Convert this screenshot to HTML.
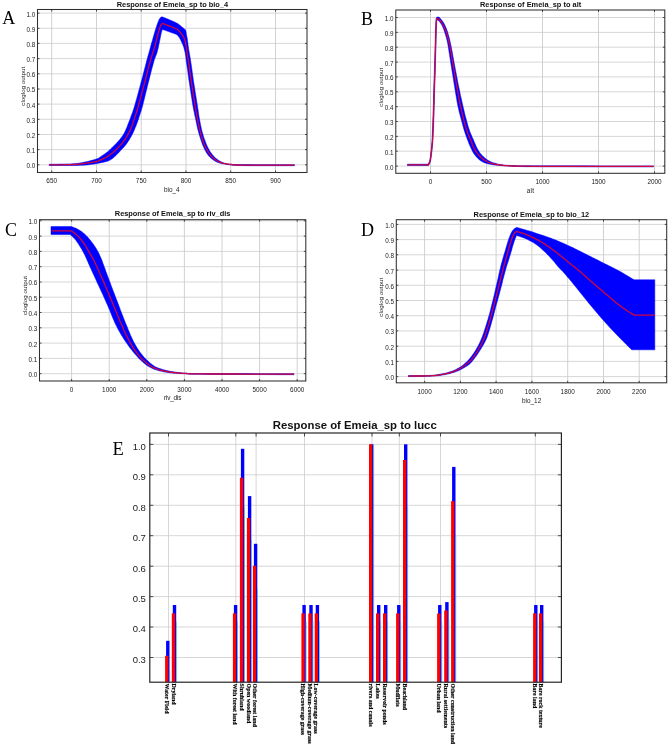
<!DOCTYPE html>
<html><head><meta charset="utf-8"><title>Response curves</title>
<style>html,body{margin:0;padding:0;background:#fff}svg{display:block}</style></head>
<body>
<svg width="669" height="747" viewBox="0 0 669 747">
<rect width="669" height="747" fill="#fff"/>
<line x1="51.7" y1="9.5" x2="51.7" y2="172.5" stroke="#c2c2c2" stroke-width="0.75"/>
<line x1="96.5" y1="9.5" x2="96.5" y2="172.5" stroke="#c2c2c2" stroke-width="0.75"/>
<line x1="141.2" y1="9.5" x2="141.2" y2="172.5" stroke="#c2c2c2" stroke-width="0.75"/>
<line x1="186.0" y1="9.5" x2="186.0" y2="172.5" stroke="#c2c2c2" stroke-width="0.75"/>
<line x1="230.7" y1="9.5" x2="230.7" y2="172.5" stroke="#c2c2c2" stroke-width="0.75"/>
<line x1="275.5" y1="9.5" x2="275.5" y2="172.5" stroke="#c2c2c2" stroke-width="0.75"/>
<line x1="37.5" y1="164.8" x2="307" y2="164.8" stroke="#cdcdcd" stroke-width="0.8"/>
<line x1="37.5" y1="149.6" x2="307" y2="149.6" stroke="#cdcdcd" stroke-width="0.8"/>
<line x1="37.5" y1="134.5" x2="307" y2="134.5" stroke="#cdcdcd" stroke-width="0.8"/>
<line x1="37.5" y1="119.3" x2="307" y2="119.3" stroke="#cdcdcd" stroke-width="0.8"/>
<line x1="37.5" y1="104.1" x2="307" y2="104.1" stroke="#cdcdcd" stroke-width="0.8"/>
<line x1="37.5" y1="89.0" x2="307" y2="89.0" stroke="#cdcdcd" stroke-width="0.8"/>
<line x1="37.5" y1="73.8" x2="307" y2="73.8" stroke="#cdcdcd" stroke-width="0.8"/>
<line x1="37.5" y1="58.6" x2="307" y2="58.6" stroke="#cdcdcd" stroke-width="0.8"/>
<line x1="37.5" y1="43.4" x2="307" y2="43.4" stroke="#cdcdcd" stroke-width="0.8"/>
<line x1="37.5" y1="28.3" x2="307" y2="28.3" stroke="#cdcdcd" stroke-width="0.8"/>
<line x1="37.5" y1="13.1" x2="307" y2="13.1" stroke="#cdcdcd" stroke-width="0.8"/>
<path d="M49.2,164.3 L52.0,164.2 L56.1,164.2 L60.8,164.1 L65.6,164.0 L70.1,163.9 L73.7,163.7 L76.3,163.5 L78.3,163.3 L79.9,163.1 L81.3,162.8 L82.8,162.5 L84.5,162.1 L86.5,161.7 L88.7,161.2 L90.8,160.6 L92.9,160.1 L94.8,159.5 L96.4,159.0 L97.6,158.6 L98.4,158.2 L99.1,157.8 L99.6,157.4 L100.2,156.9 L101.0,156.4 L101.9,155.8 L102.9,155.2 L103.9,154.5 L105.0,153.7 L106.0,153.0 L107.0,152.2 L108.0,151.4 L109.0,150.5 L110.0,149.6 L110.9,148.7 L111.9,147.8 L112.9,146.8 L113.9,145.8 L114.9,144.8 L116.0,143.7 L117.0,142.6 L118.0,141.6 L118.9,140.5 L119.8,139.4 L120.6,138.4 L121.5,137.3 L122.2,136.3 L123.0,135.2 L123.7,134.0 L124.4,132.8 L125.0,131.6 L125.5,130.4 L126.1,129.1 L126.7,127.7 L127.3,126.2 L127.9,124.6 L128.6,122.8 L129.3,121.0 L130.0,119.2 L130.7,117.3 L131.3,115.5 L131.9,113.9 L132.5,112.4 L133.0,110.9 L133.6,109.3 L134.2,107.3 L134.9,105.0 L135.7,102.1 L136.6,98.9 L137.6,95.3 L138.6,91.6 L139.6,87.9 L140.6,84.2 L141.6,80.5 L142.6,76.7 L143.6,72.8 L144.6,69.0 L145.5,65.4 L146.4,62.0 L147.2,58.9 L148.0,56.0 L148.8,53.3 L149.5,50.7 L150.2,48.2 L150.9,45.6 L151.6,43.0 L152.4,40.4 L153.1,37.8 L153.8,35.3 L154.5,33.0 L155.1,30.9 L155.7,29.0 L156.3,27.2 L156.8,25.5 L157.4,24.0 L157.8,22.7 L158.3,21.5 L158.7,20.5 L159.1,19.7 L159.4,19.1 L159.7,18.6 L160.0,18.2 L160.3,17.8 L160.6,17.5 L160.9,17.2 L161.2,17.1 L161.5,17.0 L161.7,16.9 L161.9,16.8 L162.8,17.1 L164.0,17.6 L165.4,18.1 L166.9,18.7 L168.4,19.3 L169.8,19.9 L171.1,20.5 L172.5,21.1 L173.9,21.7 L175.2,22.3 L176.5,23.0 L177.6,23.6 L178.6,24.2 L179.5,24.9 L180.2,25.5 L181.0,26.1 L181.6,26.7 L182.3,27.3 L183.0,27.8 L183.6,28.3 L184.2,28.8 L184.7,29.3 L185.2,29.6 L185.5,29.9 L185.7,30.6 L185.9,31.6 L186.2,32.8 L186.4,34.2 L186.7,35.7 L187.0,37.2 L187.3,38.9 L187.5,40.7 L187.8,42.6 L188.0,44.6 L188.3,46.6 L188.6,48.7 L188.9,50.7 L189.3,52.7 L189.6,54.7 L190.0,56.8 L190.4,59.2 L190.8,62.0 L191.3,65.2 L191.8,68.8 L192.3,72.6 L192.9,76.6 L193.4,80.5 L194.0,84.2 L194.6,87.8 L195.1,91.5 L195.7,95.1 L196.3,98.7 L196.8,102.0 L197.3,105.0 L197.7,107.7 L198.1,110.1 L198.4,112.3 L198.7,114.4 L199.0,116.5 L199.4,118.6 L199.8,120.8 L200.2,123.0 L200.6,125.1 L201.1,127.2 L201.5,129.3 L202.0,131.2 L202.5,133.0 L203.0,134.7 L203.5,136.4 L204.0,138.0 L204.6,139.5 L205.1,141.0 L205.7,142.5 L206.2,143.9 L206.8,145.2 L207.4,146.5 L208.0,147.8 L208.6,149.0 L209.3,150.2 L209.9,151.3 L210.6,152.3 L211.4,153.3 L212.1,154.3 L212.8,155.2 L213.5,156.0 L214.2,156.8 L215.0,157.5 L215.7,158.2 L216.5,158.8 L217.3,159.4 L218.1,160.0 L219.0,160.6 L219.8,161.1 L220.7,161.6 L221.7,162.1 L222.7,162.5 L223.7,162.9 L224.8,163.2 L225.9,163.5 L227.1,163.8 L228.4,164.0 L229.9,164.2 L231.2,164.3 L232.0,164.4 L233.1,164.5 L234.7,164.5 L237.5,164.6 L241.9,164.6 L248.9,164.6 L258.3,164.7 L268.9,164.7 L279.3,164.7 L288.2,164.7 L294.4,164.7 L294.4,165.7 L288.2,165.7 L279.3,165.7 L268.9,165.7 L258.3,165.7 L248.9,165.7 L241.9,165.6 L237.5,165.5 L234.8,165.4 L233.2,165.3 L232.2,165.2 L231.3,165.0 L229.9,164.8 L228.1,164.6 L226.4,164.4 L224.8,164.1 L223.2,163.9 L221.7,163.6 L220.3,163.2 L219.0,162.8 L217.9,162.4 L216.8,162.0 L215.8,161.5 L214.8,160.9 L213.8,160.3 L212.8,159.6 L211.9,158.9 L210.9,158.1 L210.0,157.3 L209.2,156.4 L208.4,155.5 L207.7,154.5 L207.0,153.5 L206.3,152.5 L205.7,151.3 L205.1,150.2 L204.5,149.0 L203.9,147.8 L203.4,146.5 L202.8,145.2 L202.3,143.9 L201.8,142.5 L201.3,141.0 L200.8,139.5 L200.3,138.0 L199.8,136.4 L199.3,134.7 L198.8,133.0 L198.3,131.2 L197.8,129.3 L197.3,127.2 L196.9,125.1 L196.4,123.0 L196.0,120.8 L195.5,118.6 L195.1,116.5 L194.6,114.4 L194.2,112.3 L193.7,110.1 L193.3,107.7 L192.8,105.0 L192.3,102.0 L191.8,98.7 L191.2,95.1 L190.7,91.5 L190.1,87.8 L189.6,84.2 L189.0,80.4 L188.4,76.3 L187.9,72.2 L187.3,68.3 L186.8,64.8 L186.4,62.0 L186.1,60.0 L186.0,58.6 L185.8,57.6 L185.8,56.8 L185.7,56.0 L185.5,55.0 L185.3,53.8 L185.1,52.6 L184.8,51.3 L184.5,50.1 L184.2,48.9 L183.9,47.7 L183.5,46.6 L183.1,45.5 L182.7,44.4 L182.2,43.3 L181.7,42.3 L181.3,41.4 L180.9,40.5 L180.4,39.6 L180.0,38.8 L179.6,38.0 L179.1,37.3 L178.7,36.7 L178.3,36.2 L177.9,35.7 L177.6,35.3 L177.2,35.0 L176.7,34.7 L176.0,34.3 L175.2,33.9 L174.2,33.5 L173.2,33.2 L172.1,32.8 L170.9,32.4 L169.8,32.0 L168.6,31.6 L167.1,31.1 L165.7,30.6 L164.4,30.1 L163.2,29.7 L162.4,29.4 L162.3,29.7 L162.2,30.0 L162.0,30.5 L161.8,31.0 L161.6,31.7 L161.4,32.5 L161.2,33.5 L160.9,34.6 L160.7,35.9 L160.4,37.2 L160.1,38.7 L159.8,40.3 L159.4,42.0 L159.0,43.9 L158.6,46.0 L158.2,48.0 L157.7,50.0 L157.2,51.9 L156.7,53.5 L156.2,54.9 L155.6,56.3 L155.1,57.8 L154.4,59.6 L153.7,62.0 L152.9,65.0 L151.9,68.6 L150.9,72.4 L149.9,76.5 L148.9,80.4 L147.9,84.2 L147.0,87.9 L146.1,91.6 L145.2,95.3 L144.3,98.9 L143.5,102.1 L142.8,105.0 L142.2,107.3 L141.6,109.3 L141.1,110.9 L140.6,112.4 L140.1,113.9 L139.6,115.5 L139.0,117.3 L138.5,119.0 L137.9,120.8 L137.3,122.5 L136.6,124.2 L136.0,125.9 L135.3,127.5 L134.7,129.1 L134.0,130.7 L133.3,132.3 L132.6,133.8 L131.8,135.3 L131.0,136.8 L130.1,138.3 L129.3,139.7 L128.4,141.1 L127.5,142.4 L126.6,143.7 L125.7,144.9 L124.8,145.9 L124.0,146.9 L123.1,147.9 L122.2,148.8 L121.3,149.8 L120.4,150.8 L119.6,151.7 L118.7,152.7 L117.8,153.6 L116.9,154.5 L116.0,155.4 L115.0,156.3 L114.0,157.2 L113.0,158.1 L111.9,158.9 L110.8,159.6 L109.6,160.3 L108.3,160.9 L107.0,161.3 L105.7,161.7 L104.3,162.0 L102.8,162.4 L101.2,162.7 L99.6,163.0 L97.8,163.4 L96.0,163.7 L94.2,164.0 L92.3,164.3 L90.4,164.5 L88.7,164.7 L87.2,164.9 L85.6,165.1 L83.8,165.2 L81.5,165.3 L78.5,165.4 L74.3,165.5 L68.9,165.5 L63.1,165.5 L57.4,165.5 L52.6,165.5 L49.2,165.5 Z" fill="#0000ff" stroke="#0000ff" stroke-width="0.5" stroke-linejoin="round"/>
<path d="M49.2,164.9 L52.0,164.9 L56.1,164.8 L60.8,164.8 L65.6,164.7 L70.1,164.6 L73.7,164.5 L76.3,164.4 L78.3,164.2 L79.9,164.0 L81.3,163.9 L82.8,163.6 L84.5,163.4 L86.5,163.1 L88.7,162.8 L90.8,162.5 L92.9,162.2 L94.8,161.8 L96.4,161.5 L97.6,161.2 L98.4,160.9 L99.1,160.7 L99.6,160.4 L100.2,160.1 L101.0,159.7 L101.9,159.3 L102.9,158.8 L103.9,158.3 L105.0,157.8 L106.0,157.3 L107.0,156.7 L108.0,156.1 L109.0,155.4 L110.0,154.8 L110.9,154.1 L111.9,153.3 L112.9,152.5 L113.9,151.6 L114.9,150.7 L116.0,149.7 L117.0,148.8 L118.0,147.8 L118.9,146.8 L119.8,145.9 L120.6,144.9 L121.4,144.0 L122.2,143.1 L122.9,142.1 L123.7,141.1 L124.4,140.1 L125.2,139.0 L125.9,138.0 L126.6,136.9 L127.2,135.8 L127.9,134.6 L128.5,133.4 L129.1,132.3 L129.7,131.1 L130.3,129.9 L130.9,128.5 L131.5,127.0 L132.2,125.3 L132.8,123.4 L133.5,121.4 L134.2,119.4 L134.9,117.4 L135.5,115.5 L136.0,113.8 L136.5,112.3 L137.0,110.8 L137.4,109.2 L137.9,107.3 L138.6,105.0 L139.4,102.1 L140.3,98.9 L141.2,95.3 L142.2,91.6 L143.2,87.9 L144.2,84.2 L145.2,80.5 L146.2,76.6 L147.2,72.6 L148.2,68.8 L149.1,65.2 L150.0,62.0 L150.8,59.3 L151.5,56.9 L152.2,54.8 L152.8,52.8 L153.5,50.8 L154.1,48.7 L154.7,46.4 L155.4,44.0 L156.0,41.6 L156.6,39.3 L157.2,37.1 L157.7,35.1 L158.2,33.3 L158.7,31.6 L159.1,30.0 L159.5,28.5 L159.9,27.3 L160.3,26.2 L160.7,25.3 L161.1,24.7 L161.5,24.2 L161.9,23.9 L162.2,23.6 L162.4,23.4 L163.2,23.7 L164.3,24.1 L165.6,24.6 L167.0,25.1 L168.5,25.7 L169.8,26.2 L171.2,26.7 L172.7,27.4 L174.2,28.0 L175.6,28.6 L176.7,29.0 L177.6,29.4 L178.1,30.0 L178.9,30.9 L179.8,31.9 L180.7,33.0 L181.6,34.1 L182.3,35.1 L182.9,36.0 L183.4,36.8 L183.8,37.5 L184.2,38.3 L184.5,39.3 L184.9,40.3 L185.2,41.5 L185.5,42.7 L185.7,44.0 L186.0,45.4 L186.2,47.0 L186.5,48.7 L186.8,50.5 L187.1,52.4 L187.4,54.5 L187.7,56.7 L188.1,59.2 L188.5,62.0 L189.0,65.2 L189.5,68.8 L190.0,72.6 L190.6,76.6 L191.1,80.5 L191.7,84.2 L192.3,87.8 L192.8,91.5 L193.4,95.1 L194.0,98.7 L194.5,102.0 L195.0,105.0 L195.4,107.7 L195.8,110.1 L196.2,112.3 L196.5,114.4 L196.9,116.5 L197.3,118.6 L197.7,120.8 L198.2,123.0 L198.7,125.1 L199.1,127.2 L199.6,129.3 L200.1,131.2 L200.6,133.0 L201.0,134.7 L201.5,136.4 L202.0,138.0 L202.5,139.5 L203.0,141.0 L203.5,142.5 L204.1,143.9 L204.7,145.2 L205.3,146.5 L205.9,147.8 L206.5,149.0 L207.2,150.2 L207.9,151.4 L208.6,152.5 L209.3,153.6 L210.1,154.6 L210.8,155.5 L211.5,156.3 L212.3,157.1 L213.0,157.8 L213.8,158.5 L214.6,159.1 L215.5,159.7 L216.4,160.3 L217.3,160.8 L218.3,161.4 L219.3,161.8 L220.3,162.3 L221.5,162.7 L222.7,163.1 L224.0,163.4 L225.3,163.6 L226.7,163.9 L228.3,164.1 L229.9,164.3 L231.2,164.5 L232.1,164.7 L233.1,164.8 L234.8,164.9 L237.5,165.0 L241.9,165.1 L248.9,165.2 L258.3,165.2 L268.9,165.2 L279.3,165.2 L288.2,165.2 L294.4,165.2" fill="none" stroke="#d2063a" stroke-width="1.3" stroke-linejoin="round" stroke-linecap="butt"/>
<rect x="37.5" y="9.5" width="269.5" height="163.0" fill="none" stroke="#303030" stroke-width="1.05"/>
<line x1="51.7" y1="9.5" x2="51.7" y2="11.5" stroke="#262626" stroke-width="0.8"/>
<line x1="51.7" y1="172.5" x2="51.7" y2="170.5" stroke="#262626" stroke-width="0.8"/>
<text x="51.7" y="183.1" font-family="Liberation Sans, sans-serif" font-size="6.4" text-anchor="middle" fill="#1a1a1a">650</text>
<line x1="96.5" y1="9.5" x2="96.5" y2="11.5" stroke="#262626" stroke-width="0.8"/>
<line x1="96.5" y1="172.5" x2="96.5" y2="170.5" stroke="#262626" stroke-width="0.8"/>
<text x="96.5" y="183.1" font-family="Liberation Sans, sans-serif" font-size="6.4" text-anchor="middle" fill="#1a1a1a">700</text>
<line x1="141.2" y1="9.5" x2="141.2" y2="11.5" stroke="#262626" stroke-width="0.8"/>
<line x1="141.2" y1="172.5" x2="141.2" y2="170.5" stroke="#262626" stroke-width="0.8"/>
<text x="141.2" y="183.1" font-family="Liberation Sans, sans-serif" font-size="6.4" text-anchor="middle" fill="#1a1a1a">750</text>
<line x1="186.0" y1="9.5" x2="186.0" y2="11.5" stroke="#262626" stroke-width="0.8"/>
<line x1="186.0" y1="172.5" x2="186.0" y2="170.5" stroke="#262626" stroke-width="0.8"/>
<text x="186.0" y="183.1" font-family="Liberation Sans, sans-serif" font-size="6.4" text-anchor="middle" fill="#1a1a1a">800</text>
<line x1="230.7" y1="9.5" x2="230.7" y2="11.5" stroke="#262626" stroke-width="0.8"/>
<line x1="230.7" y1="172.5" x2="230.7" y2="170.5" stroke="#262626" stroke-width="0.8"/>
<text x="230.7" y="183.1" font-family="Liberation Sans, sans-serif" font-size="6.4" text-anchor="middle" fill="#1a1a1a">850</text>
<line x1="275.5" y1="9.5" x2="275.5" y2="11.5" stroke="#262626" stroke-width="0.8"/>
<line x1="275.5" y1="172.5" x2="275.5" y2="170.5" stroke="#262626" stroke-width="0.8"/>
<text x="275.5" y="183.1" font-family="Liberation Sans, sans-serif" font-size="6.4" text-anchor="middle" fill="#1a1a1a">900</text>
<line x1="37.5" y1="164.8" x2="39.5" y2="164.8" stroke="#262626" stroke-width="0.8"/>
<line x1="307" y1="164.8" x2="305" y2="164.8" stroke="#262626" stroke-width="0.8"/>
<text x="35.2" y="168.2" font-family="Liberation Sans, sans-serif" font-size="6.3" text-anchor="end" fill="#1a1a1a">0.0</text>
<line x1="37.5" y1="149.6" x2="39.5" y2="149.6" stroke="#262626" stroke-width="0.8"/>
<line x1="307" y1="149.6" x2="305" y2="149.6" stroke="#262626" stroke-width="0.8"/>
<text x="35.2" y="153.0" font-family="Liberation Sans, sans-serif" font-size="6.3" text-anchor="end" fill="#1a1a1a">0.1</text>
<line x1="37.5" y1="134.5" x2="39.5" y2="134.5" stroke="#262626" stroke-width="0.8"/>
<line x1="307" y1="134.5" x2="305" y2="134.5" stroke="#262626" stroke-width="0.8"/>
<text x="35.2" y="137.9" font-family="Liberation Sans, sans-serif" font-size="6.3" text-anchor="end" fill="#1a1a1a">0.2</text>
<line x1="37.5" y1="119.3" x2="39.5" y2="119.3" stroke="#262626" stroke-width="0.8"/>
<line x1="307" y1="119.3" x2="305" y2="119.3" stroke="#262626" stroke-width="0.8"/>
<text x="35.2" y="122.7" font-family="Liberation Sans, sans-serif" font-size="6.3" text-anchor="end" fill="#1a1a1a">0.3</text>
<line x1="37.5" y1="104.1" x2="39.5" y2="104.1" stroke="#262626" stroke-width="0.8"/>
<line x1="307" y1="104.1" x2="305" y2="104.1" stroke="#262626" stroke-width="0.8"/>
<text x="35.2" y="107.5" font-family="Liberation Sans, sans-serif" font-size="6.3" text-anchor="end" fill="#1a1a1a">0.4</text>
<line x1="37.5" y1="89.0" x2="39.5" y2="89.0" stroke="#262626" stroke-width="0.8"/>
<line x1="307" y1="89.0" x2="305" y2="89.0" stroke="#262626" stroke-width="0.8"/>
<text x="35.2" y="92.4" font-family="Liberation Sans, sans-serif" font-size="6.3" text-anchor="end" fill="#1a1a1a">0.5</text>
<line x1="37.5" y1="73.8" x2="39.5" y2="73.8" stroke="#262626" stroke-width="0.8"/>
<line x1="307" y1="73.8" x2="305" y2="73.8" stroke="#262626" stroke-width="0.8"/>
<text x="35.2" y="77.2" font-family="Liberation Sans, sans-serif" font-size="6.3" text-anchor="end" fill="#1a1a1a">0.6</text>
<line x1="37.5" y1="58.6" x2="39.5" y2="58.6" stroke="#262626" stroke-width="0.8"/>
<line x1="307" y1="58.6" x2="305" y2="58.6" stroke="#262626" stroke-width="0.8"/>
<text x="35.2" y="62.0" font-family="Liberation Sans, sans-serif" font-size="6.3" text-anchor="end" fill="#1a1a1a">0.7</text>
<line x1="37.5" y1="43.4" x2="39.5" y2="43.4" stroke="#262626" stroke-width="0.8"/>
<line x1="307" y1="43.4" x2="305" y2="43.4" stroke="#262626" stroke-width="0.8"/>
<text x="35.2" y="46.8" font-family="Liberation Sans, sans-serif" font-size="6.3" text-anchor="end" fill="#1a1a1a">0.8</text>
<line x1="37.5" y1="28.3" x2="39.5" y2="28.3" stroke="#262626" stroke-width="0.8"/>
<line x1="307" y1="28.3" x2="305" y2="28.3" stroke="#262626" stroke-width="0.8"/>
<text x="35.2" y="31.7" font-family="Liberation Sans, sans-serif" font-size="6.3" text-anchor="end" fill="#1a1a1a">0.9</text>
<line x1="37.5" y1="13.1" x2="39.5" y2="13.1" stroke="#262626" stroke-width="0.8"/>
<line x1="307" y1="13.1" x2="305" y2="13.1" stroke="#262626" stroke-width="0.8"/>
<text x="35.2" y="16.5" font-family="Liberation Sans, sans-serif" font-size="6.3" text-anchor="end" fill="#1a1a1a">1.0</text>
<text x="116.7" y="6.8" font-family="Liberation Sans, sans-serif" font-size="7.4" font-weight="bold" textLength="111.3" lengthAdjust="spacing" fill="#111">Response of Emeia_sp to bio_4</text>
<text x="164.0" y="191.8" font-family="Liberation Sans, sans-serif" font-size="6.4" textLength="15.5" lengthAdjust="spacing" fill="#1a1a1a">bio_4</text>
<text transform="translate(24.6,105.7) rotate(-90)" font-family="Liberation Sans, sans-serif" font-size="6.2" textLength="39" lengthAdjust="spacing" fill="#1a1a1a">cloglog output</text>
<text x="2.2" y="24.3" font-family="Liberation Serif, serif" font-size="18" fill="#000">A</text>
<line x1="430.5" y1="10" x2="430.5" y2="173.3" stroke="#c2c2c2" stroke-width="0.75"/>
<line x1="486.5" y1="10" x2="486.5" y2="173.3" stroke="#c2c2c2" stroke-width="0.75"/>
<line x1="542.5" y1="10" x2="542.5" y2="173.3" stroke="#c2c2c2" stroke-width="0.75"/>
<line x1="598.5" y1="10" x2="598.5" y2="173.3" stroke="#c2c2c2" stroke-width="0.75"/>
<line x1="654.5" y1="10" x2="654.5" y2="173.3" stroke="#c2c2c2" stroke-width="0.75"/>
<line x1="395.8" y1="166.1" x2="664.8" y2="166.1" stroke="#cdcdcd" stroke-width="0.8"/>
<line x1="395.8" y1="151.2" x2="664.8" y2="151.2" stroke="#cdcdcd" stroke-width="0.8"/>
<line x1="395.8" y1="136.4" x2="664.8" y2="136.4" stroke="#cdcdcd" stroke-width="0.8"/>
<line x1="395.8" y1="121.5" x2="664.8" y2="121.5" stroke="#cdcdcd" stroke-width="0.8"/>
<line x1="395.8" y1="106.7" x2="664.8" y2="106.7" stroke="#cdcdcd" stroke-width="0.8"/>
<line x1="395.8" y1="91.8" x2="664.8" y2="91.8" stroke="#cdcdcd" stroke-width="0.8"/>
<line x1="395.8" y1="76.9" x2="664.8" y2="76.9" stroke="#cdcdcd" stroke-width="0.8"/>
<line x1="395.8" y1="62.1" x2="664.8" y2="62.1" stroke="#cdcdcd" stroke-width="0.8"/>
<line x1="395.8" y1="47.2" x2="664.8" y2="47.2" stroke="#cdcdcd" stroke-width="0.8"/>
<line x1="395.8" y1="32.4" x2="664.8" y2="32.4" stroke="#cdcdcd" stroke-width="0.8"/>
<line x1="395.8" y1="17.5" x2="664.8" y2="17.5" stroke="#cdcdcd" stroke-width="0.8"/>
<path d="M407.4,164.2 L427.6,164.2 L427.8,164.0 L428.1,163.7 L428.4,163.3 L428.8,162.8 L429.2,162.2 L429.4,161.5 L429.7,160.6 L429.9,159.5 L430.1,158.3 L430.3,156.9 L430.5,155.6 L430.7,154.3 L430.8,153.0 L431.0,151.5 L431.1,150.1 L431.3,148.6 L431.4,147.3 L431.6,146.0 L431.7,145.0 L431.7,144.1 L431.8,143.4 L431.9,142.5 L432.0,141.4 L432.1,140.0 L432.1,138.2 L432.2,136.2 L432.3,133.9 L432.4,131.4 L432.5,128.7 L432.7,125.9 L432.8,122.8 L432.9,119.4 L433.0,115.9 L433.1,112.2 L433.2,108.6 L433.4,105.0 L433.5,101.6 L433.5,98.3 L433.6,94.9 L433.7,91.5 L433.8,88.0 L433.9,84.2 L434.1,80.0 L434.2,75.3 L434.4,70.5 L434.5,65.8 L434.6,61.6 L434.8,58.0 L434.8,55.3 L434.9,53.3 L434.9,51.6 L435.0,50.2 L435.0,48.6 L435.1,46.6 L435.1,44.2 L435.2,41.5 L435.2,38.6 L435.3,35.8 L435.4,33.2 L435.4,30.9 L435.5,28.9 L435.6,27.1 L435.7,25.4 L435.7,24.0 L435.8,22.7 L435.9,21.5 L435.9,20.5 L436.0,19.8 L436.1,19.2 L436.1,18.7 L436.2,18.3 L436.2,18.0 L436.3,17.9 L436.4,17.8 L436.5,17.6 L436.7,17.5 L436.8,17.3 L437.0,17.2 L437.2,17.1 L437.4,17.1 L437.6,17.0 L437.8,17.0 L438.0,17.0 L438.2,17.0 L438.4,17.0 L438.6,17.1 L438.8,17.1 L439.1,17.2 L439.3,17.4 L439.6,17.6 L439.9,17.9 L440.3,18.4 L440.7,18.8 L441.1,19.4 L441.6,19.9 L442.0,20.5 L442.4,21.1 L442.9,21.7 L443.3,22.3 L443.7,23.0 L444.2,23.8 L444.6,24.6 L445.0,25.5 L445.5,26.5 L445.9,27.5 L446.4,28.6 L446.8,29.8 L447.2,30.9 L447.6,32.0 L447.9,33.2 L448.3,34.4 L448.6,35.6 L449.0,36.9 L449.3,38.3 L449.7,39.7 L450.0,41.3 L450.4,42.8 L450.7,44.4 L451.1,46.1 L451.4,47.7 L451.7,49.2 L451.9,50.5 L452.2,51.8 L452.5,53.4 L452.8,55.4 L453.3,58.0 L453.9,61.5 L454.7,65.8 L455.6,70.4 L456.5,75.3 L457.4,80.0 L458.2,84.2 L459.0,88.1 L459.8,91.8 L460.5,95.4 L461.3,98.8 L462.0,102.0 L462.7,105.0 L463.3,107.7 L463.9,110.1 L464.4,112.3 L464.9,114.4 L465.4,116.5 L466.0,118.6 L466.6,120.8 L467.2,123.0 L467.8,125.2 L468.4,127.3 L469.1,129.3 L469.7,131.2 L470.4,133.0 L471.1,134.6 L471.8,136.2 L472.4,137.7 L473.1,139.1 L473.7,140.5 L474.2,141.8 L474.7,143.0 L475.2,144.1 L475.6,145.1 L476.1,146.2 L476.6,147.2 L477.1,148.3 L477.7,149.3 L478.3,150.3 L478.9,151.3 L479.5,152.3 L480.2,153.2 L480.9,154.1 L481.7,154.9 L482.4,155.7 L483.2,156.5 L484.1,157.3 L484.9,158.0 L485.8,158.7 L486.6,159.3 L487.5,160.0 L488.4,160.6 L489.4,161.1 L490.3,161.6 L491.3,162.0 L492.2,162.4 L493.2,162.7 L494.2,163.0 L495.2,163.3 L496.3,163.6 L497.3,163.9 L498.3,164.1 L499.4,164.4 L500.5,164.6 L501.9,164.8 L503.5,165.0 L505.3,165.2 L507.1,165.3 L509.1,165.4 L511.4,165.5 L514.3,165.6 L517.8,165.7 L521.3,165.8 L524.6,165.8 L528.3,165.8 L533.3,165.8 L540.3,165.8 L550.0,165.8 L564.3,165.8 L583.1,165.8 L603.8,165.9 L624.0,165.9 L641.4,165.9 L653.5,165.9 L653.5,166.9 L641.4,166.9 L624.0,166.9 L603.8,166.9 L583.1,166.9 L564.3,166.8 L550.0,166.8 L540.3,166.8 L533.5,166.7 L528.5,166.7 L524.8,166.7 L521.5,166.6 L517.8,166.5 L513.9,166.4 L510.4,166.2 L507.4,166.0 L504.6,165.9 L502.2,165.7 L499.9,165.5 L497.9,165.3 L496.4,165.2 L495.0,165.1 L493.9,164.9 L492.7,164.7 L491.5,164.5 L490.2,164.3 L489.0,164.0 L487.7,163.8 L486.6,163.5 L485.4,163.1 L484.3,162.7 L483.2,162.2 L482.2,161.7 L481.2,161.0 L480.2,160.4 L479.3,159.7 L478.4,158.9 L477.5,158.1 L476.7,157.2 L475.9,156.3 L475.1,155.3 L474.3,154.3 L473.6,153.2 L472.9,152.1 L472.3,150.8 L471.6,149.6 L471.1,148.3 L470.5,147.1 L470.0,146.0 L469.6,145.0 L469.2,144.2 L468.9,143.4 L468.6,142.6 L468.2,141.6 L467.8,140.5 L467.3,139.2 L466.8,137.8 L466.2,136.3 L465.7,134.7 L465.1,133.0 L464.5,131.2 L463.9,129.3 L463.3,127.3 L462.8,125.2 L462.2,123.0 L461.6,120.8 L461.0,118.6 L460.4,116.5 L459.9,114.4 L459.3,112.3 L458.8,110.1 L458.3,107.7 L457.7,105.0 L457.1,102.0 L456.6,98.8 L456.0,95.4 L455.4,91.8 L454.8,88.1 L454.2,84.2 L453.5,80.0 L452.8,75.4 L452.0,70.7 L451.3,66.1 L450.6,61.8 L450.0,58.0 L449.5,54.8 L449.1,52.1 L448.7,49.6 L448.4,47.4 L448.0,45.4 L447.7,43.5 L447.3,41.7 L447.0,40.2 L446.6,38.8 L446.3,37.5 L445.9,36.3 L445.6,35.1 L445.2,33.9 L444.9,32.8 L444.5,31.7 L444.2,30.7 L443.8,29.7 L443.5,28.8 L443.2,28.0 L442.8,27.2 L442.5,26.5 L442.2,25.8 L441.8,25.2 L441.5,24.6 L441.2,24.0 L440.8,23.4 L440.5,22.9 L440.1,22.4 L439.8,21.9 L439.4,21.5 L439.0,21.1 L438.6,20.8 L438.2,20.6 L437.8,20.3 L437.5,20.1 L437.3,20.0 L437.2,20.1 L437.2,20.1 L437.1,20.2 L436.9,20.4 L436.8,20.8 L436.8,21.5 L436.7,22.5 L436.6,23.8 L436.5,25.3 L436.5,27.0 L436.4,28.9 L436.3,30.9 L436.3,33.2 L436.2,35.8 L436.1,38.6 L436.1,41.5 L436.0,44.2 L435.9,46.6 L435.9,48.6 L435.9,50.2 L435.8,51.6 L435.8,53.3 L435.7,55.3 L435.6,58.0 L435.5,61.6 L435.4,65.8 L435.3,70.5 L435.1,75.3 L435.0,80.0 L434.8,84.2 L434.7,88.0 L434.6,91.5 L434.5,94.9 L434.4,98.3 L434.4,101.6 L434.2,105.0 L434.1,108.6 L434.0,112.2 L433.9,115.9 L433.8,119.4 L433.7,122.8 L433.6,125.9 L433.4,128.7 L433.3,131.4 L433.2,133.9 L433.1,136.2 L433.0,138.2 L432.9,140.0 L432.9,141.4 L432.8,142.5 L432.7,143.4 L432.6,144.1 L432.6,145.0 L432.4,146.0 L432.3,147.3 L432.2,148.6 L432.0,150.1 L431.9,151.5 L431.7,153.0 L431.6,154.3 L431.4,155.6 L431.2,156.9 L431.0,158.2 L430.8,159.4 L430.6,160.5 L430.3,161.5 L430.1,162.4 L429.7,163.2 L429.4,163.9 L429.1,164.5 L428.8,165.0 L428.6,165.4 L407.4,165.4 Z" fill="#0000ff" stroke="#0000ff" stroke-width="0.5" stroke-linejoin="round"/>
<path d="M407.4,164.8 L428.1,164.8 L428.3,164.5 L428.6,164.1 L428.9,163.6 L429.3,163.0 L429.6,162.3 L429.9,161.5 L430.1,160.5 L430.4,159.4 L430.6,158.2 L430.7,156.9 L430.9,155.6 L431.1,154.3 L431.3,153.0 L431.4,151.5 L431.6,150.1 L431.7,148.6 L431.9,147.3 L432.0,146.0 L432.1,145.0 L432.2,144.1 L432.3,143.4 L432.3,142.5 L432.4,141.4 L432.5,140.0 L432.6,138.2 L432.7,136.2 L432.8,133.9 L432.9,131.4 L433.0,128.7 L433.1,125.9 L433.2,122.8 L433.3,119.4 L433.5,115.9 L433.6,112.2 L433.7,108.6 L433.8,105.0 L433.9,101.6 L434.0,98.3 L434.1,94.9 L434.2,91.5 L434.3,88.0 L434.4,84.2 L434.5,80.0 L434.7,75.3 L434.8,70.5 L435.0,65.8 L435.1,61.6 L435.2,58.0 L435.3,55.3 L435.3,53.3 L435.4,51.6 L435.4,50.2 L435.4,48.6 L435.5,46.6 L435.6,44.2 L435.6,41.5 L435.7,38.6 L435.8,35.8 L435.8,33.2 L435.9,30.9 L436.0,28.9 L436.0,27.1 L436.1,25.4 L436.2,23.9 L436.2,22.6 L436.3,21.5 L436.4,20.6 L436.4,19.9 L436.5,19.4 L436.6,19.0 L436.7,18.7 L436.7,18.4 L436.9,18.5 L437.2,18.6 L437.6,18.7 L438.0,18.8 L438.4,19.0 L438.8,19.2 L439.1,19.5 L439.5,19.8 L439.8,20.1 L440.2,20.5 L440.5,21.0 L440.9,21.5 L441.3,22.1 L441.7,22.7 L442.2,23.3 L442.6,24.1 L443.1,24.9 L443.5,25.7 L444.0,26.6 L444.4,27.6 L444.9,28.7 L445.3,29.7 L445.8,30.9 L446.2,32.0 L446.6,33.1 L446.9,34.3 L447.3,35.5 L447.6,36.7 L448.0,38.0 L448.3,39.3 L448.6,40.7 L449.0,42.3 L449.3,43.9 L449.7,45.5 L450.0,47.1 L450.3,48.7 L450.6,50.1 L450.8,51.2 L450.9,52.3 L451.2,53.7 L451.5,55.5 L451.9,58.0 L452.5,61.5 L453.2,65.7 L454.0,70.4 L454.8,75.2 L455.7,80.0 L456.4,84.2 L457.1,88.1 L457.8,91.8 L458.4,95.4 L459.1,98.8 L459.7,102.0 L460.3,105.0 L460.9,107.7 L461.4,110.1 L461.9,112.3 L462.4,114.4 L462.9,116.5 L463.4,118.6 L464.0,120.8 L464.6,123.0 L465.2,125.2 L465.8,127.3 L466.5,129.3 L467.1,131.2 L467.7,133.0 L468.4,134.6 L469.0,136.2 L469.6,137.7 L470.2,139.1 L470.8,140.5 L471.3,141.8 L471.8,143.0 L472.2,144.1 L472.6,145.1 L473.1,146.2 L473.6,147.2 L474.1,148.3 L474.7,149.3 L475.3,150.3 L475.9,151.3 L476.5,152.3 L477.2,153.2 L477.9,154.1 L478.7,155.0 L479.5,155.8 L480.3,156.7 L481.1,157.4 L482.0,158.2 L482.9,158.9 L483.9,159.6 L484.9,160.3 L485.9,160.9 L486.9,161.5 L487.9,162.0 L488.9,162.4 L489.8,162.8 L490.7,163.1 L491.6,163.4 L492.7,163.6 L493.9,163.9 L495.2,164.2 L496.7,164.5 L498.2,164.7 L499.8,165.0 L501.6,165.2 L503.5,165.4 L505.4,165.6 L507.3,165.7 L509.2,165.8 L511.5,165.9 L514.3,166.0 L517.8,166.1 L521.3,166.2 L524.6,166.2 L528.3,166.2 L533.3,166.3 L540.3,166.3 L550.0,166.3 L564.3,166.3 L583.1,166.3 L603.8,166.4 L624.0,166.4 L641.4,166.4 L653.5,166.4" fill="none" stroke="#d2063a" stroke-width="1.3" stroke-linejoin="round" stroke-linecap="butt"/>
<rect x="395.8" y="10" width="269.0" height="163.3" fill="none" stroke="#303030" stroke-width="1.05"/>
<line x1="430.5" y1="10" x2="430.5" y2="12" stroke="#262626" stroke-width="0.8"/>
<line x1="430.5" y1="173.3" x2="430.5" y2="171.3" stroke="#262626" stroke-width="0.8"/>
<text x="430.5" y="184.2" font-family="Liberation Sans, sans-serif" font-size="6.4" text-anchor="middle" fill="#1a1a1a">0</text>
<line x1="486.5" y1="10" x2="486.5" y2="12" stroke="#262626" stroke-width="0.8"/>
<line x1="486.5" y1="173.3" x2="486.5" y2="171.3" stroke="#262626" stroke-width="0.8"/>
<text x="486.5" y="184.2" font-family="Liberation Sans, sans-serif" font-size="6.4" text-anchor="middle" fill="#1a1a1a">500</text>
<line x1="542.5" y1="10" x2="542.5" y2="12" stroke="#262626" stroke-width="0.8"/>
<line x1="542.5" y1="173.3" x2="542.5" y2="171.3" stroke="#262626" stroke-width="0.8"/>
<text x="542.5" y="184.2" font-family="Liberation Sans, sans-serif" font-size="6.4" text-anchor="middle" fill="#1a1a1a">1000</text>
<line x1="598.5" y1="10" x2="598.5" y2="12" stroke="#262626" stroke-width="0.8"/>
<line x1="598.5" y1="173.3" x2="598.5" y2="171.3" stroke="#262626" stroke-width="0.8"/>
<text x="598.5" y="184.2" font-family="Liberation Sans, sans-serif" font-size="6.4" text-anchor="middle" fill="#1a1a1a">1500</text>
<line x1="654.5" y1="10" x2="654.5" y2="12" stroke="#262626" stroke-width="0.8"/>
<line x1="654.5" y1="173.3" x2="654.5" y2="171.3" stroke="#262626" stroke-width="0.8"/>
<text x="654.5" y="184.2" font-family="Liberation Sans, sans-serif" font-size="6.4" text-anchor="middle" fill="#1a1a1a">2000</text>
<line x1="395.8" y1="166.1" x2="397.8" y2="166.1" stroke="#262626" stroke-width="0.8"/>
<line x1="664.8" y1="166.1" x2="662.8" y2="166.1" stroke="#262626" stroke-width="0.8"/>
<text x="393.5" y="169.5" font-family="Liberation Sans, sans-serif" font-size="6.3" text-anchor="end" fill="#1a1a1a">0.0</text>
<line x1="395.8" y1="151.2" x2="397.8" y2="151.2" stroke="#262626" stroke-width="0.8"/>
<line x1="664.8" y1="151.2" x2="662.8" y2="151.2" stroke="#262626" stroke-width="0.8"/>
<text x="393.5" y="154.6" font-family="Liberation Sans, sans-serif" font-size="6.3" text-anchor="end" fill="#1a1a1a">0.1</text>
<line x1="395.8" y1="136.4" x2="397.8" y2="136.4" stroke="#262626" stroke-width="0.8"/>
<line x1="664.8" y1="136.4" x2="662.8" y2="136.4" stroke="#262626" stroke-width="0.8"/>
<text x="393.5" y="139.8" font-family="Liberation Sans, sans-serif" font-size="6.3" text-anchor="end" fill="#1a1a1a">0.2</text>
<line x1="395.8" y1="121.5" x2="397.8" y2="121.5" stroke="#262626" stroke-width="0.8"/>
<line x1="664.8" y1="121.5" x2="662.8" y2="121.5" stroke="#262626" stroke-width="0.8"/>
<text x="393.5" y="124.9" font-family="Liberation Sans, sans-serif" font-size="6.3" text-anchor="end" fill="#1a1a1a">0.3</text>
<line x1="395.8" y1="106.7" x2="397.8" y2="106.7" stroke="#262626" stroke-width="0.8"/>
<line x1="664.8" y1="106.7" x2="662.8" y2="106.7" stroke="#262626" stroke-width="0.8"/>
<text x="393.5" y="110.1" font-family="Liberation Sans, sans-serif" font-size="6.3" text-anchor="end" fill="#1a1a1a">0.4</text>
<line x1="395.8" y1="91.8" x2="397.8" y2="91.8" stroke="#262626" stroke-width="0.8"/>
<line x1="664.8" y1="91.8" x2="662.8" y2="91.8" stroke="#262626" stroke-width="0.8"/>
<text x="393.5" y="95.2" font-family="Liberation Sans, sans-serif" font-size="6.3" text-anchor="end" fill="#1a1a1a">0.5</text>
<line x1="395.8" y1="76.9" x2="397.8" y2="76.9" stroke="#262626" stroke-width="0.8"/>
<line x1="664.8" y1="76.9" x2="662.8" y2="76.9" stroke="#262626" stroke-width="0.8"/>
<text x="393.5" y="80.3" font-family="Liberation Sans, sans-serif" font-size="6.3" text-anchor="end" fill="#1a1a1a">0.6</text>
<line x1="395.8" y1="62.1" x2="397.8" y2="62.1" stroke="#262626" stroke-width="0.8"/>
<line x1="664.8" y1="62.1" x2="662.8" y2="62.1" stroke="#262626" stroke-width="0.8"/>
<text x="393.5" y="65.5" font-family="Liberation Sans, sans-serif" font-size="6.3" text-anchor="end" fill="#1a1a1a">0.7</text>
<line x1="395.8" y1="47.2" x2="397.8" y2="47.2" stroke="#262626" stroke-width="0.8"/>
<line x1="664.8" y1="47.2" x2="662.8" y2="47.2" stroke="#262626" stroke-width="0.8"/>
<text x="393.5" y="50.6" font-family="Liberation Sans, sans-serif" font-size="6.3" text-anchor="end" fill="#1a1a1a">0.8</text>
<line x1="395.8" y1="32.4" x2="397.8" y2="32.4" stroke="#262626" stroke-width="0.8"/>
<line x1="664.8" y1="32.4" x2="662.8" y2="32.4" stroke="#262626" stroke-width="0.8"/>
<text x="393.5" y="35.8" font-family="Liberation Sans, sans-serif" font-size="6.3" text-anchor="end" fill="#1a1a1a">0.9</text>
<line x1="395.8" y1="17.5" x2="397.8" y2="17.5" stroke="#262626" stroke-width="0.8"/>
<line x1="664.8" y1="17.5" x2="662.8" y2="17.5" stroke="#262626" stroke-width="0.8"/>
<text x="393.5" y="20.9" font-family="Liberation Sans, sans-serif" font-size="6.3" text-anchor="end" fill="#1a1a1a">1.0</text>
<text x="479.9" y="7.2" font-family="Liberation Sans, sans-serif" font-size="7.4" font-weight="bold" textLength="101.4" lengthAdjust="spacing" fill="#111">Response of Emeia_sp to alt</text>
<text x="526.8" y="192.5" font-family="Liberation Sans, sans-serif" font-size="6.4" textLength="7.2" lengthAdjust="spacing" fill="#1a1a1a">alt</text>
<text transform="translate(382.9,106.7) rotate(-90)" font-family="Liberation Sans, sans-serif" font-size="6.2" textLength="39" lengthAdjust="spacing" fill="#1a1a1a">cloglog output</text>
<text x="361" y="24.5" font-family="Liberation Serif, serif" font-size="18" fill="#000">B</text>
<line x1="71.6" y1="219.7" x2="71.6" y2="381" stroke="#c2c2c2" stroke-width="0.75"/>
<line x1="109.2" y1="219.7" x2="109.2" y2="381" stroke="#c2c2c2" stroke-width="0.75"/>
<line x1="146.8" y1="219.7" x2="146.8" y2="381" stroke="#c2c2c2" stroke-width="0.75"/>
<line x1="184.4" y1="219.7" x2="184.4" y2="381" stroke="#c2c2c2" stroke-width="0.75"/>
<line x1="222.0" y1="219.7" x2="222.0" y2="381" stroke="#c2c2c2" stroke-width="0.75"/>
<line x1="259.6" y1="219.7" x2="259.6" y2="381" stroke="#c2c2c2" stroke-width="0.75"/>
<line x1="297.2" y1="219.7" x2="297.2" y2="381" stroke="#c2c2c2" stroke-width="0.75"/>
<line x1="39.5" y1="373.7" x2="305.8" y2="373.7" stroke="#cdcdcd" stroke-width="0.8"/>
<line x1="39.5" y1="358.4" x2="305.8" y2="358.4" stroke="#cdcdcd" stroke-width="0.8"/>
<line x1="39.5" y1="343.1" x2="305.8" y2="343.1" stroke="#cdcdcd" stroke-width="0.8"/>
<line x1="39.5" y1="327.8" x2="305.8" y2="327.8" stroke="#cdcdcd" stroke-width="0.8"/>
<line x1="39.5" y1="312.5" x2="305.8" y2="312.5" stroke="#cdcdcd" stroke-width="0.8"/>
<line x1="39.5" y1="297.2" x2="305.8" y2="297.2" stroke="#cdcdcd" stroke-width="0.8"/>
<line x1="39.5" y1="282.0" x2="305.8" y2="282.0" stroke="#cdcdcd" stroke-width="0.8"/>
<line x1="39.5" y1="266.7" x2="305.8" y2="266.7" stroke="#cdcdcd" stroke-width="0.8"/>
<line x1="39.5" y1="251.4" x2="305.8" y2="251.4" stroke="#cdcdcd" stroke-width="0.8"/>
<line x1="39.5" y1="236.1" x2="305.8" y2="236.1" stroke="#cdcdcd" stroke-width="0.8"/>
<line x1="39.5" y1="220.8" x2="305.8" y2="220.8" stroke="#cdcdcd" stroke-width="0.8"/>
<path d="M51.0,226.6 L71.4,226.6 L71.9,226.8 L72.7,227.0 L73.6,227.4 L74.5,227.7 L75.5,228.1 L76.4,228.5 L77.3,228.9 L78.1,229.4 L79.0,229.9 L79.9,230.4 L80.7,231.0 L81.6,231.6 L82.5,232.3 L83.4,233.0 L84.2,233.8 L85.1,234.6 L86.0,235.4 L86.9,236.3 L87.8,237.2 L88.6,238.2 L89.5,239.3 L90.4,240.3 L91.2,241.4 L92.1,242.6 L93.0,243.8 L93.9,245.1 L94.8,246.4 L95.7,247.8 L96.5,249.1 L97.3,250.4 L98.0,251.7 L98.7,253.0 L99.3,254.2 L99.8,255.5 L100.4,256.8 L100.9,258.0 L101.4,259.1 L101.8,260.1 L102.2,261.1 L102.6,262.2 L103.0,263.5 L103.6,265.0 L104.3,266.9 L105.1,269.0 L105.9,271.4 L106.8,273.8 L107.7,276.3 L108.6,278.6 L109.4,280.9 L110.3,283.1 L111.1,285.4 L112.0,287.7 L112.8,289.9 L113.7,292.2 L114.6,294.6 L115.5,297.0 L116.5,299.5 L117.4,301.8 L118.2,304.0 L118.9,305.8 L119.4,307.2 L119.8,308.2 L120.1,309.0 L120.3,309.7 L120.7,310.7 L121.2,312.0 L121.9,313.7 L122.7,315.7 L123.5,317.9 L124.4,320.2 L125.3,322.4 L126.2,324.6 L127.1,326.7 L127.9,328.9 L128.8,331.0 L129.7,333.1 L130.5,335.2 L131.4,337.1 L132.3,338.9 L133.1,340.7 L134.0,342.4 L134.9,344.0 L135.7,345.5 L136.6,347.0 L137.5,348.4 L138.4,349.8 L139.2,351.1 L140.1,352.3 L141.0,353.5 L141.9,354.6 L142.8,355.7 L143.6,356.7 L144.5,357.7 L145.4,358.6 L146.2,359.4 L147.1,360.3 L148.0,361.1 L148.9,361.9 L149.8,362.7 L150.6,363.4 L151.5,364.1 L152.3,364.7 L153.0,365.2 L153.6,365.7 L154.2,366.1 L154.8,366.5 L155.6,366.9 L156.5,367.3 L157.6,367.8 L158.9,368.3 L160.4,368.7 L161.9,369.2 L163.4,369.7 L164.9,370.1 L166.4,370.5 L168.0,370.8 L169.6,371.2 L171.2,371.5 L172.8,371.7 L174.5,372.0 L176.2,372.2 L177.8,372.5 L179.5,372.6 L181.2,372.8 L183.1,373.0 L185.2,373.1 L186.6,373.2 L187.2,373.3 L187.8,373.4 L189.7,373.4 L193.7,373.5 L200.8,373.5 L212.9,373.5 L229.6,373.6 L248.4,373.6 L267.0,373.7 L283.0,373.7 L294.0,373.7 L294.0,374.7 L283.0,374.7 L267.0,374.6 L248.4,374.5 L229.6,374.5 L212.9,374.4 L200.8,374.3 L193.7,374.2 L189.8,374.2 L188.0,374.1 L187.3,374.0 L186.8,373.9 L185.2,373.8 L182.8,373.7 L180.6,373.6 L178.3,373.5 L176.2,373.3 L174.1,373.2 L172.1,373.0 L170.1,372.8 L168.2,372.5 L166.4,372.3 L164.6,372.0 L162.9,371.6 L161.3,371.3 L159.7,370.9 L158.3,370.6 L156.9,370.1 L155.5,369.7 L154.2,369.2 L152.9,368.7 L151.6,368.1 L150.4,367.5 L149.2,366.8 L148.0,366.1 L146.9,365.4 L145.8,364.6 L144.7,363.8 L143.7,362.9 L142.7,362.1 L141.7,361.1 L140.7,360.2 L139.8,359.3 L138.9,358.4 L138.0,357.5 L137.2,356.6 L136.3,355.6 L135.4,354.6 L134.5,353.5 L133.5,352.3 L132.5,351.0 L131.5,349.7 L130.4,348.4 L129.3,346.9 L128.3,345.5 L127.3,344.0 L126.2,342.5 L125.2,341.0 L124.1,339.4 L123.1,337.8 L122.0,336.1 L120.9,334.3 L119.9,332.5 L118.8,330.6 L117.7,328.6 L116.7,326.6 L115.7,324.6 L114.7,322.5 L113.8,320.2 L112.8,318.0 L111.9,315.8 L111.1,313.7 L110.4,312.0 L109.9,310.7 L109.5,309.7 L109.1,309.0 L108.8,308.2 L108.4,307.2 L107.8,305.8 L107.0,304.0 L106.0,301.8 L105.0,299.5 L103.9,297.0 L102.8,294.6 L101.7,292.2 L100.7,289.9 L99.6,287.7 L98.6,285.4 L97.5,283.2 L96.5,280.9 L95.4,278.6 L94.3,276.2 L93.2,273.7 L92.0,271.2 L90.9,268.7 L89.9,266.5 L89.0,264.5 L88.3,262.9 L87.7,261.5 L87.2,260.4 L86.7,259.3 L86.3,258.3 L85.8,257.2 L85.3,256.1 L84.8,255.0 L84.3,254.0 L83.7,253.0 L83.2,252.0 L82.7,251.0 L82.2,250.1 L81.6,249.1 L81.1,248.3 L80.6,247.4 L80.0,246.5 L79.5,245.7 L79.0,244.9 L78.5,244.0 L77.9,243.2 L77.4,242.5 L76.9,241.7 L76.4,241.0 L75.9,240.3 L75.4,239.7 L74.9,239.1 L74.3,238.5 L73.8,237.9 L73.3,237.4 L72.7,236.8 L72.1,236.3 L71.5,235.7 L70.9,235.2 L70.4,234.8 L70.1,234.5 L51.0,234.5 Z" fill="#0000ff" stroke="#0000ff" stroke-width="0.5" stroke-linejoin="round"/>
<path d="M51.8,230.9 L71.2,230.9 L71.6,231.2 L72.3,231.6 L73.0,232.0 L73.8,232.6 L74.6,233.1 L75.3,233.7 L76.0,234.3 L76.7,235.0 L77.4,235.6 L78.1,236.4 L78.8,237.1 L79.5,237.9 L80.2,238.7 L80.9,239.5 L81.6,240.3 L82.3,241.2 L83.0,242.1 L83.7,243.1 L84.4,244.1 L85.1,245.2 L85.8,246.4 L86.5,247.5 L87.2,248.7 L87.9,249.9 L88.6,251.1 L89.3,252.3 L90.0,253.5 L90.7,254.7 L91.4,255.9 L92.1,257.2 L92.8,258.4 L93.4,259.5 L94.0,260.7 L94.6,262.0 L95.3,263.4 L96.1,265.0 L97.0,266.9 L98.0,269.1 L99.0,271.4 L100.1,273.9 L101.2,276.3 L102.2,278.6 L103.2,280.9 L104.2,283.1 L105.1,285.4 L106.1,287.7 L107.0,289.9 L108.0,292.2 L109.0,294.6 L110.0,297.0 L111.1,299.5 L112.0,301.8 L112.9,304.0 L113.7,305.8 L114.3,307.2 L114.7,308.2 L115.0,309.0 L115.3,309.7 L115.7,310.7 L116.2,312.0 L116.9,313.7 L117.7,315.7 L118.7,317.9 L119.6,320.2 L120.6,322.4 L121.5,324.6 L122.4,326.7 L123.4,328.9 L124.3,331.0 L125.3,333.1 L126.2,335.1 L127.2,337.1 L128.2,339.0 L129.1,340.8 L130.1,342.5 L131.1,344.2 L132.0,345.8 L133.0,347.4 L134.0,348.9 L134.9,350.3 L135.9,351.6 L136.8,352.9 L137.8,354.1 L138.7,355.3 L139.6,356.4 L140.5,357.4 L141.3,358.3 L142.2,359.2 L143.0,360.0 L143.9,360.8 L144.8,361.6 L145.7,362.3 L146.6,363.1 L147.5,363.7 L148.3,364.4 L149.2,365.0 L150.0,365.6 L150.7,366.1 L151.5,366.5 L152.2,367.0 L153.1,367.4 L154.1,367.9 L155.3,368.4 L156.6,368.8 L157.9,369.3 L159.4,369.8 L160.9,370.2 L162.5,370.6 L164.1,371.0 L165.9,371.3 L167.7,371.7 L169.5,372.0 L171.4,372.3 L173.3,372.5 L175.2,372.7 L177.0,372.9 L179.0,373.0 L180.9,373.2 L183.0,373.3 L185.2,373.4 L186.7,373.5 L187.3,373.6 L187.9,373.7 L189.7,373.8 L193.7,373.8 L200.8,373.9 L212.9,374.0 L229.6,374.0 L248.4,374.1 L267.0,374.1 L283.0,374.2 L294.0,374.2" fill="none" stroke="#d2063a" stroke-width="1.3" stroke-linejoin="round" stroke-linecap="butt"/>
<rect x="39.5" y="219.7" width="266.3" height="161.3" fill="none" stroke="#303030" stroke-width="1.05"/>
<line x1="71.6" y1="219.7" x2="71.6" y2="221.7" stroke="#262626" stroke-width="0.8"/>
<line x1="71.6" y1="381" x2="71.6" y2="379" stroke="#262626" stroke-width="0.8"/>
<text x="71.6" y="391.9" font-family="Liberation Sans, sans-serif" font-size="6.4" text-anchor="middle" fill="#1a1a1a">0</text>
<line x1="109.2" y1="219.7" x2="109.2" y2="221.7" stroke="#262626" stroke-width="0.8"/>
<line x1="109.2" y1="381" x2="109.2" y2="379" stroke="#262626" stroke-width="0.8"/>
<text x="109.2" y="391.9" font-family="Liberation Sans, sans-serif" font-size="6.4" text-anchor="middle" fill="#1a1a1a">1000</text>
<line x1="146.8" y1="219.7" x2="146.8" y2="221.7" stroke="#262626" stroke-width="0.8"/>
<line x1="146.8" y1="381" x2="146.8" y2="379" stroke="#262626" stroke-width="0.8"/>
<text x="146.8" y="391.9" font-family="Liberation Sans, sans-serif" font-size="6.4" text-anchor="middle" fill="#1a1a1a">2000</text>
<line x1="184.4" y1="219.7" x2="184.4" y2="221.7" stroke="#262626" stroke-width="0.8"/>
<line x1="184.4" y1="381" x2="184.4" y2="379" stroke="#262626" stroke-width="0.8"/>
<text x="184.4" y="391.9" font-family="Liberation Sans, sans-serif" font-size="6.4" text-anchor="middle" fill="#1a1a1a">3000</text>
<line x1="222.0" y1="219.7" x2="222.0" y2="221.7" stroke="#262626" stroke-width="0.8"/>
<line x1="222.0" y1="381" x2="222.0" y2="379" stroke="#262626" stroke-width="0.8"/>
<text x="222.0" y="391.9" font-family="Liberation Sans, sans-serif" font-size="6.4" text-anchor="middle" fill="#1a1a1a">4000</text>
<line x1="259.6" y1="219.7" x2="259.6" y2="221.7" stroke="#262626" stroke-width="0.8"/>
<line x1="259.6" y1="381" x2="259.6" y2="379" stroke="#262626" stroke-width="0.8"/>
<text x="259.6" y="391.9" font-family="Liberation Sans, sans-serif" font-size="6.4" text-anchor="middle" fill="#1a1a1a">5000</text>
<line x1="297.2" y1="219.7" x2="297.2" y2="221.7" stroke="#262626" stroke-width="0.8"/>
<line x1="297.2" y1="381" x2="297.2" y2="379" stroke="#262626" stroke-width="0.8"/>
<text x="297.2" y="391.9" font-family="Liberation Sans, sans-serif" font-size="6.4" text-anchor="middle" fill="#1a1a1a">6000</text>
<line x1="39.5" y1="373.7" x2="41.5" y2="373.7" stroke="#262626" stroke-width="0.8"/>
<line x1="305.8" y1="373.7" x2="303.8" y2="373.7" stroke="#262626" stroke-width="0.8"/>
<text x="37.2" y="377.1" font-family="Liberation Sans, sans-serif" font-size="6.3" text-anchor="end" fill="#1a1a1a">0.0</text>
<line x1="39.5" y1="358.4" x2="41.5" y2="358.4" stroke="#262626" stroke-width="0.8"/>
<line x1="305.8" y1="358.4" x2="303.8" y2="358.4" stroke="#262626" stroke-width="0.8"/>
<text x="37.2" y="361.8" font-family="Liberation Sans, sans-serif" font-size="6.3" text-anchor="end" fill="#1a1a1a">0.1</text>
<line x1="39.5" y1="343.1" x2="41.5" y2="343.1" stroke="#262626" stroke-width="0.8"/>
<line x1="305.8" y1="343.1" x2="303.8" y2="343.1" stroke="#262626" stroke-width="0.8"/>
<text x="37.2" y="346.5" font-family="Liberation Sans, sans-serif" font-size="6.3" text-anchor="end" fill="#1a1a1a">0.2</text>
<line x1="39.5" y1="327.8" x2="41.5" y2="327.8" stroke="#262626" stroke-width="0.8"/>
<line x1="305.8" y1="327.8" x2="303.8" y2="327.8" stroke="#262626" stroke-width="0.8"/>
<text x="37.2" y="331.2" font-family="Liberation Sans, sans-serif" font-size="6.3" text-anchor="end" fill="#1a1a1a">0.3</text>
<line x1="39.5" y1="312.5" x2="41.5" y2="312.5" stroke="#262626" stroke-width="0.8"/>
<line x1="305.8" y1="312.5" x2="303.8" y2="312.5" stroke="#262626" stroke-width="0.8"/>
<text x="37.2" y="315.9" font-family="Liberation Sans, sans-serif" font-size="6.3" text-anchor="end" fill="#1a1a1a">0.4</text>
<line x1="39.5" y1="297.2" x2="41.5" y2="297.2" stroke="#262626" stroke-width="0.8"/>
<line x1="305.8" y1="297.2" x2="303.8" y2="297.2" stroke="#262626" stroke-width="0.8"/>
<text x="37.2" y="300.6" font-family="Liberation Sans, sans-serif" font-size="6.3" text-anchor="end" fill="#1a1a1a">0.5</text>
<line x1="39.5" y1="282.0" x2="41.5" y2="282.0" stroke="#262626" stroke-width="0.8"/>
<line x1="305.8" y1="282.0" x2="303.8" y2="282.0" stroke="#262626" stroke-width="0.8"/>
<text x="37.2" y="285.4" font-family="Liberation Sans, sans-serif" font-size="6.3" text-anchor="end" fill="#1a1a1a">0.6</text>
<line x1="39.5" y1="266.7" x2="41.5" y2="266.7" stroke="#262626" stroke-width="0.8"/>
<line x1="305.8" y1="266.7" x2="303.8" y2="266.7" stroke="#262626" stroke-width="0.8"/>
<text x="37.2" y="270.1" font-family="Liberation Sans, sans-serif" font-size="6.3" text-anchor="end" fill="#1a1a1a">0.7</text>
<line x1="39.5" y1="251.4" x2="41.5" y2="251.4" stroke="#262626" stroke-width="0.8"/>
<line x1="305.8" y1="251.4" x2="303.8" y2="251.4" stroke="#262626" stroke-width="0.8"/>
<text x="37.2" y="254.8" font-family="Liberation Sans, sans-serif" font-size="6.3" text-anchor="end" fill="#1a1a1a">0.8</text>
<line x1="39.5" y1="236.1" x2="41.5" y2="236.1" stroke="#262626" stroke-width="0.8"/>
<line x1="305.8" y1="236.1" x2="303.8" y2="236.1" stroke="#262626" stroke-width="0.8"/>
<text x="37.2" y="239.5" font-family="Liberation Sans, sans-serif" font-size="6.3" text-anchor="end" fill="#1a1a1a">0.9</text>
<line x1="39.5" y1="220.8" x2="41.5" y2="220.8" stroke="#262626" stroke-width="0.8"/>
<line x1="305.8" y1="220.8" x2="303.8" y2="220.8" stroke="#262626" stroke-width="0.8"/>
<text x="37.2" y="224.2" font-family="Liberation Sans, sans-serif" font-size="6.3" text-anchor="end" fill="#1a1a1a">1.0</text>
<text x="114.8" y="216.4" font-family="Liberation Sans, sans-serif" font-size="7.4" font-weight="bold" textLength="115.6" lengthAdjust="spacing" fill="#111">Response of Emeia_sp to riv_dis</text>
<text x="164.0" y="400" font-family="Liberation Sans, sans-serif" font-size="6.4" textLength="17.4" lengthAdjust="spacing" fill="#1a1a1a">riv_dis</text>
<text transform="translate(26.5,315.1) rotate(-90)" font-family="Liberation Sans, sans-serif" font-size="6.2" textLength="39" lengthAdjust="spacing" fill="#1a1a1a">cloglog output</text>
<text x="5" y="236.2" font-family="Liberation Serif, serif" font-size="18" fill="#000">C</text>
<line x1="424.6" y1="219.7" x2="424.6" y2="382.8" stroke="#c2c2c2" stroke-width="0.75"/>
<line x1="460.4" y1="219.7" x2="460.4" y2="382.8" stroke="#c2c2c2" stroke-width="0.75"/>
<line x1="496.1" y1="219.7" x2="496.1" y2="382.8" stroke="#c2c2c2" stroke-width="0.75"/>
<line x1="531.9" y1="219.7" x2="531.9" y2="382.8" stroke="#c2c2c2" stroke-width="0.75"/>
<line x1="567.7" y1="219.7" x2="567.7" y2="382.8" stroke="#c2c2c2" stroke-width="0.75"/>
<line x1="603.5" y1="219.7" x2="603.5" y2="382.8" stroke="#c2c2c2" stroke-width="0.75"/>
<line x1="639.2" y1="219.7" x2="639.2" y2="382.8" stroke="#c2c2c2" stroke-width="0.75"/>
<line x1="396.3" y1="376.6" x2="666.7" y2="376.6" stroke="#cdcdcd" stroke-width="0.8"/>
<line x1="396.3" y1="361.4" x2="666.7" y2="361.4" stroke="#cdcdcd" stroke-width="0.8"/>
<line x1="396.3" y1="346.2" x2="666.7" y2="346.2" stroke="#cdcdcd" stroke-width="0.8"/>
<line x1="396.3" y1="330.9" x2="666.7" y2="330.9" stroke="#cdcdcd" stroke-width="0.8"/>
<line x1="396.3" y1="315.7" x2="666.7" y2="315.7" stroke="#cdcdcd" stroke-width="0.8"/>
<line x1="396.3" y1="300.5" x2="666.7" y2="300.5" stroke="#cdcdcd" stroke-width="0.8"/>
<line x1="396.3" y1="285.3" x2="666.7" y2="285.3" stroke="#cdcdcd" stroke-width="0.8"/>
<line x1="396.3" y1="270.1" x2="666.7" y2="270.1" stroke="#cdcdcd" stroke-width="0.8"/>
<line x1="396.3" y1="254.8" x2="666.7" y2="254.8" stroke="#cdcdcd" stroke-width="0.8"/>
<line x1="396.3" y1="239.6" x2="666.7" y2="239.6" stroke="#cdcdcd" stroke-width="0.8"/>
<line x1="396.3" y1="224.4" x2="666.7" y2="224.4" stroke="#cdcdcd" stroke-width="0.8"/>
<path d="M408.4,375.5 L410.9,375.5 L414.4,375.5 L418.5,375.5 L422.8,375.5 L426.8,375.5 L429.9,375.4 L432.2,375.3 L434.0,375.1 L435.5,375.0 L436.8,374.8 L438.1,374.5 L439.5,374.3 L441.0,374.0 L442.4,373.8 L443.8,373.5 L445.2,373.2 L446.5,372.9 L447.8,372.5 L449.1,372.1 L450.3,371.7 L451.5,371.3 L452.7,370.9 L453.9,370.4 L455.0,369.9 L456.1,369.4 L457.1,368.8 L458.1,368.3 L459.1,367.7 L460.1,367.1 L461.0,366.5 L461.9,365.9 L462.8,365.2 L463.7,364.5 L464.5,363.8 L465.3,363.1 L466.0,362.5 L466.6,362.0 L467.1,361.5 L467.6,361.1 L468.0,360.6 L468.6,360.0 L469.3,359.1 L470.2,358.0 L471.2,356.7 L472.2,355.3 L473.4,353.8 L474.5,352.1 L475.5,350.5 L476.5,348.8 L477.5,347.0 L478.5,345.2 L479.5,343.2 L480.4,341.2 L481.3,339.2 L482.2,337.1 L483.0,334.8 L483.8,332.5 L484.5,330.2 L485.3,327.9 L486.0,325.6 L486.7,323.4 L487.3,321.3 L488.0,319.2 L488.6,317.1 L489.3,314.7 L490.0,312.0 L490.8,309.0 L491.6,305.6 L492.5,302.1 L493.4,298.4 L494.3,294.8 L495.1,291.2 L495.9,287.6 L496.8,283.8 L497.7,279.9 L498.5,276.3 L499.2,272.9 L499.9,270.0 L500.5,267.7 L500.9,265.8 L501.3,264.3 L501.7,262.9 L502.1,261.5 L502.5,259.9 L503.0,258.2 L503.5,256.4 L504.0,254.7 L504.5,252.9 L505.1,251.2 L505.6,249.4 L506.1,247.6 L506.7,245.7 L507.2,243.9 L507.8,242.1 L508.3,240.4 L508.8,238.9 L509.3,237.6 L509.7,236.4 L510.1,235.3 L510.6,234.3 L511.0,233.4 L511.4,232.6 L511.8,231.8 L512.3,231.1 L512.7,230.5 L513.1,230.0 L513.6,229.5 L514.0,229.0 L514.5,228.6 L515.0,228.3 L515.5,228.0 L515.9,227.7 L516.3,227.6 L516.6,227.4 L517.4,227.6 L518.5,227.9 L519.8,228.3 L521.2,228.7 L522.6,229.1 L523.9,229.5 L525.1,229.8 L526.3,230.2 L527.5,230.5 L528.7,230.8 L530.0,231.2 L531.3,231.6 L532.7,232.0 L534.0,232.5 L535.5,233.0 L536.9,233.5 L538.4,234.0 L540.0,234.5 L541.6,235.1 L543.4,235.6 L545.1,236.2 L546.9,236.8 L548.7,237.5 L550.5,238.1 L552.2,238.8 L554.0,239.4 L555.7,240.1 L557.4,240.8 L559.2,241.6 L560.9,242.3 L562.6,243.0 L564.4,243.8 L566.1,244.6 L567.9,245.4 L569.6,246.2 L571.4,247.0 L573.2,247.8 L574.9,248.7 L576.7,249.6 L578.4,250.4 L580.2,251.3 L581.9,252.2 L583.6,253.1 L585.4,253.9 L587.1,254.8 L588.8,255.7 L590.6,256.5 L592.3,257.4 L594.1,258.3 L595.9,259.2 L597.8,260.1 L599.5,261.1 L601.2,261.9 L602.8,262.7 L604.2,263.4 L605.4,264.0 L606.5,264.6 L607.6,265.1 L608.8,265.7 L610.0,266.3 L611.3,266.9 L612.5,267.5 L613.8,268.2 L615.2,268.9 L616.8,269.7 L618.7,270.7 L621.1,272.1 L623.9,273.7 L626.9,275.5 L629.9,277.3 L632.3,278.8 L634.1,279.8 L654.8,279.8 L654.8,349.8 L631.7,349.8 L630.3,348.4 L628.3,346.4 L625.9,344.1 L623.4,341.6 L620.9,339.1 L618.7,336.8 L616.7,334.7 L614.8,332.7 L612.9,330.7 L611.0,328.7 L609.1,326.7 L607.2,324.6 L605.3,322.5 L603.4,320.3 L601.5,318.2 L599.6,316.0 L597.7,313.7 L595.8,311.5 L593.9,309.2 L592.0,307.0 L590.1,304.7 L588.2,302.4 L586.3,300.0 L584.4,297.7 L582.5,295.3 L580.6,292.9 L578.6,290.5 L576.7,288.1 L574.8,285.7 L573.0,283.5 L571.2,281.3 L569.3,279.0 L567.4,276.9 L565.7,274.8 L564.1,273.0 L562.8,271.5 L561.8,270.4 L561.1,269.7 L560.5,269.2 L560.1,268.7 L559.5,268.2 L558.8,267.4 L557.9,266.4 L556.9,265.2 L555.8,263.9 L554.8,262.6 L553.7,261.3 L552.6,260.1 L551.6,258.9 L550.5,257.8 L549.5,256.6 L548.4,255.5 L547.4,254.4 L546.3,253.3 L545.2,252.2 L544.1,251.2 L543.0,250.2 L541.9,249.2 L540.9,248.3 L540.0,247.5 L539.3,246.9 L538.7,246.4 L538.2,245.9 L537.7,245.6 L537.1,245.2 L536.5,244.7 L535.8,244.2 L535.0,243.7 L534.1,243.1 L533.3,242.6 L532.3,242.1 L531.3,241.5 L530.2,240.9 L529.0,240.3 L527.7,239.6 L526.4,239.0 L525.2,238.4 L523.9,237.9 L522.6,237.4 L521.2,237.0 L519.8,236.5 L518.5,236.1 L517.4,235.8 L516.6,235.6 L516.4,235.9 L516.2,236.3 L516.0,236.9 L515.7,237.5 L515.4,238.1 L515.1,238.9 L514.8,239.8 L514.4,240.7 L514.1,241.8 L513.7,242.9 L513.4,244.1 L513.0,245.2 L512.7,246.3 L512.3,247.5 L512.0,248.7 L511.7,249.9 L511.3,251.2 L510.9,252.5 L510.5,254.0 L510.0,255.5 L509.5,257.1 L509.0,258.8 L508.5,260.4 L508.0,261.9 L507.6,263.2 L507.2,264.2 L506.9,265.2 L506.5,266.4 L506.1,267.9 L505.5,270.0 L504.8,272.8 L503.9,276.1 L502.9,279.8 L502.0,283.7 L501.0,287.5 L500.0,291.2 L499.1,294.8 L498.1,298.4 L497.1,302.1 L496.1,305.6 L495.2,309.0 L494.4,312.0 L493.7,314.7 L493.1,317.1 L492.5,319.2 L491.9,321.3 L491.3,323.4 L490.7,325.6 L490.0,327.9 L489.3,330.2 L488.6,332.5 L487.9,334.8 L487.1,337.1 L486.2,339.2 L485.2,341.3 L484.2,343.3 L483.1,345.2 L482.0,347.1 L480.9,348.9 L479.8,350.6 L478.8,352.2 L477.8,353.7 L476.8,355.2 L475.9,356.5 L474.9,357.8 L474.0,359.0 L473.2,360.1 L472.4,361.1 L471.6,362.0 L470.9,362.8 L470.0,363.7 L469.0,364.5 L467.8,365.4 L466.5,366.3 L465.1,367.1 L463.6,368.0 L462.3,368.7 L461.0,369.4 L459.9,370.0 L458.9,370.5 L457.9,370.9 L457.0,371.3 L456.0,371.6 L455.0,372.0 L453.9,372.4 L452.7,372.7 L451.5,373.1 L450.3,373.4 L449.1,373.7 L447.8,374.0 L446.5,374.3 L445.2,374.6 L443.8,374.8 L442.4,375.1 L441.0,375.3 L439.5,375.5 L438.1,375.7 L436.8,375.8 L435.5,375.9 L434.0,376.0 L432.2,376.1 L429.9,376.2 L426.8,376.3 L422.8,376.4 L418.5,376.5 L414.4,376.6 L410.9,376.6 L408.4,376.7 Z" fill="#0000ff" stroke="#0000ff" stroke-width="0.5" stroke-linejoin="round"/>
<path d="M408.4,376.1 L410.9,376.1 L414.4,376.0 L418.5,376.0 L422.8,376.0 L426.8,375.9 L429.9,375.8 L432.2,375.7 L434.0,375.6 L435.5,375.4 L436.8,375.3 L438.1,375.1 L439.5,374.9 L441.0,374.7 L442.4,374.4 L443.8,374.2 L445.2,373.9 L446.5,373.6 L447.8,373.3 L449.1,373.0 L450.3,372.6 L451.5,372.2 L452.7,371.8 L453.9,371.3 L455.0,370.9 L456.1,370.5 L457.1,370.0 L458.1,369.5 L459.0,369.0 L460.0,368.5 L461.0,367.9 L462.1,367.2 L463.1,366.5 L464.2,365.8 L465.3,365.0 L466.3,364.2 L467.3,363.5 L468.2,362.8 L468.9,362.2 L469.6,361.6 L470.3,360.9 L471.1,360.1 L471.9,359.1 L472.8,357.9 L473.8,356.6 L474.8,355.2 L475.8,353.7 L476.8,352.1 L477.8,350.5 L478.8,348.8 L479.8,347.0 L480.8,345.2 L481.8,343.2 L482.8,341.2 L483.7,339.2 L484.6,337.1 L485.4,334.8 L486.1,332.5 L486.9,330.2 L487.6,327.9 L488.3,325.6 L489.0,323.4 L489.6,321.3 L490.2,319.2 L490.7,317.1 L491.4,314.7 L492.1,312.0 L492.9,309.0 L493.8,305.6 L494.7,302.1 L495.6,298.4 L496.6,294.8 L497.5,291.2 L498.4,287.5 L499.4,283.7 L500.3,279.8 L501.3,276.1 L502.1,272.8 L502.8,270.0 L503.4,267.9 L503.8,266.4 L504.1,265.2 L504.4,264.2 L504.7,263.2 L505.1,261.9 L505.5,260.4 L505.9,258.9 L506.4,257.3 L506.8,255.7 L507.3,254.1 L507.7,252.5 L508.1,250.9 L508.6,249.3 L509.0,247.7 L509.4,246.1 L509.9,244.5 L510.3,243.1 L510.8,241.7 L511.2,240.4 L511.7,239.1 L512.1,237.9 L512.6,236.8 L513.0,235.8 L513.4,235.0 L513.8,234.3 L514.1,233.7 L514.5,233.2 L514.8,232.8 L515.1,232.4 L515.4,232.1 L515.8,231.9 L516.1,231.7 L516.4,231.6 L516.6,231.5 L516.8,231.4 L517.6,231.6 L518.6,232.0 L519.9,232.4 L521.2,232.8 L522.6,233.2 L523.9,233.7 L525.1,234.2 L526.3,234.6 L527.5,235.1 L528.7,235.6 L530.0,236.2 L531.3,236.8 L532.7,237.4 L534.1,238.1 L535.6,238.9 L537.1,239.6 L538.6,240.4 L540.0,241.2 L541.4,242.0 L542.8,242.9 L544.2,243.7 L545.6,244.6 L547.0,245.6 L548.4,246.5 L549.8,247.5 L551.2,248.5 L552.5,249.5 L553.9,250.6 L555.3,251.6 L556.7,252.7 L558.1,253.8 L559.5,254.9 L560.9,256.1 L562.3,257.2 L563.7,258.4 L565.1,259.5 L566.5,260.6 L567.9,261.8 L569.3,262.9 L570.7,264.0 L572.1,265.2 L573.5,266.3 L574.9,267.4 L576.3,268.6 L577.8,269.8 L579.2,270.9 L580.6,272.1 L581.9,273.2 L583.1,274.3 L584.3,275.3 L585.4,276.3 L586.6,277.4 L587.8,278.5 L589.3,279.8 L591.0,281.2 L592.8,282.8 L594.8,284.5 L596.8,286.2 L598.8,287.9 L600.7,289.6 L602.6,291.2 L604.5,292.9 L606.4,294.5 L608.3,296.1 L610.2,297.7 L612.1,299.3 L614.0,300.9 L615.9,302.4 L617.9,304.0 L619.8,305.5 L621.6,306.9 L623.5,308.3 L625.4,309.6 L627.5,311.0 L629.5,312.3 L631.4,313.4 L633.0,314.4 L634.1,315.1 L654.5,315.1" fill="none" stroke="#d2063a" stroke-width="1.3" stroke-linejoin="round" stroke-linecap="butt"/>
<rect x="396.3" y="219.7" width="270.4" height="163.1" fill="none" stroke="#303030" stroke-width="1.05"/>
<line x1="424.6" y1="219.7" x2="424.6" y2="221.7" stroke="#262626" stroke-width="0.8"/>
<line x1="424.6" y1="382.8" x2="424.6" y2="380.8" stroke="#262626" stroke-width="0.8"/>
<text x="424.6" y="393.5" font-family="Liberation Sans, sans-serif" font-size="6.4" text-anchor="middle" fill="#1a1a1a">1000</text>
<line x1="460.4" y1="219.7" x2="460.4" y2="221.7" stroke="#262626" stroke-width="0.8"/>
<line x1="460.4" y1="382.8" x2="460.4" y2="380.8" stroke="#262626" stroke-width="0.8"/>
<text x="460.4" y="393.5" font-family="Liberation Sans, sans-serif" font-size="6.4" text-anchor="middle" fill="#1a1a1a">1200</text>
<line x1="496.1" y1="219.7" x2="496.1" y2="221.7" stroke="#262626" stroke-width="0.8"/>
<line x1="496.1" y1="382.8" x2="496.1" y2="380.8" stroke="#262626" stroke-width="0.8"/>
<text x="496.1" y="393.5" font-family="Liberation Sans, sans-serif" font-size="6.4" text-anchor="middle" fill="#1a1a1a">1400</text>
<line x1="531.9" y1="219.7" x2="531.9" y2="221.7" stroke="#262626" stroke-width="0.8"/>
<line x1="531.9" y1="382.8" x2="531.9" y2="380.8" stroke="#262626" stroke-width="0.8"/>
<text x="531.9" y="393.5" font-family="Liberation Sans, sans-serif" font-size="6.4" text-anchor="middle" fill="#1a1a1a">1600</text>
<line x1="567.7" y1="219.7" x2="567.7" y2="221.7" stroke="#262626" stroke-width="0.8"/>
<line x1="567.7" y1="382.8" x2="567.7" y2="380.8" stroke="#262626" stroke-width="0.8"/>
<text x="567.7" y="393.5" font-family="Liberation Sans, sans-serif" font-size="6.4" text-anchor="middle" fill="#1a1a1a">1800</text>
<line x1="603.5" y1="219.7" x2="603.5" y2="221.7" stroke="#262626" stroke-width="0.8"/>
<line x1="603.5" y1="382.8" x2="603.5" y2="380.8" stroke="#262626" stroke-width="0.8"/>
<text x="603.5" y="393.5" font-family="Liberation Sans, sans-serif" font-size="6.4" text-anchor="middle" fill="#1a1a1a">2000</text>
<line x1="639.2" y1="219.7" x2="639.2" y2="221.7" stroke="#262626" stroke-width="0.8"/>
<line x1="639.2" y1="382.8" x2="639.2" y2="380.8" stroke="#262626" stroke-width="0.8"/>
<text x="639.2" y="393.5" font-family="Liberation Sans, sans-serif" font-size="6.4" text-anchor="middle" fill="#1a1a1a">2200</text>
<line x1="396.3" y1="376.6" x2="398.3" y2="376.6" stroke="#262626" stroke-width="0.8"/>
<line x1="666.7" y1="376.6" x2="664.7" y2="376.6" stroke="#262626" stroke-width="0.8"/>
<text x="394.0" y="380.0" font-family="Liberation Sans, sans-serif" font-size="6.3" text-anchor="end" fill="#1a1a1a">0.0</text>
<line x1="396.3" y1="361.4" x2="398.3" y2="361.4" stroke="#262626" stroke-width="0.8"/>
<line x1="666.7" y1="361.4" x2="664.7" y2="361.4" stroke="#262626" stroke-width="0.8"/>
<text x="394.0" y="364.8" font-family="Liberation Sans, sans-serif" font-size="6.3" text-anchor="end" fill="#1a1a1a">0.1</text>
<line x1="396.3" y1="346.2" x2="398.3" y2="346.2" stroke="#262626" stroke-width="0.8"/>
<line x1="666.7" y1="346.2" x2="664.7" y2="346.2" stroke="#262626" stroke-width="0.8"/>
<text x="394.0" y="349.6" font-family="Liberation Sans, sans-serif" font-size="6.3" text-anchor="end" fill="#1a1a1a">0.2</text>
<line x1="396.3" y1="330.9" x2="398.3" y2="330.9" stroke="#262626" stroke-width="0.8"/>
<line x1="666.7" y1="330.9" x2="664.7" y2="330.9" stroke="#262626" stroke-width="0.8"/>
<text x="394.0" y="334.3" font-family="Liberation Sans, sans-serif" font-size="6.3" text-anchor="end" fill="#1a1a1a">0.3</text>
<line x1="396.3" y1="315.7" x2="398.3" y2="315.7" stroke="#262626" stroke-width="0.8"/>
<line x1="666.7" y1="315.7" x2="664.7" y2="315.7" stroke="#262626" stroke-width="0.8"/>
<text x="394.0" y="319.1" font-family="Liberation Sans, sans-serif" font-size="6.3" text-anchor="end" fill="#1a1a1a">0.4</text>
<line x1="396.3" y1="300.5" x2="398.3" y2="300.5" stroke="#262626" stroke-width="0.8"/>
<line x1="666.7" y1="300.5" x2="664.7" y2="300.5" stroke="#262626" stroke-width="0.8"/>
<text x="394.0" y="303.9" font-family="Liberation Sans, sans-serif" font-size="6.3" text-anchor="end" fill="#1a1a1a">0.5</text>
<line x1="396.3" y1="285.3" x2="398.3" y2="285.3" stroke="#262626" stroke-width="0.8"/>
<line x1="666.7" y1="285.3" x2="664.7" y2="285.3" stroke="#262626" stroke-width="0.8"/>
<text x="394.0" y="288.7" font-family="Liberation Sans, sans-serif" font-size="6.3" text-anchor="end" fill="#1a1a1a">0.6</text>
<line x1="396.3" y1="270.1" x2="398.3" y2="270.1" stroke="#262626" stroke-width="0.8"/>
<line x1="666.7" y1="270.1" x2="664.7" y2="270.1" stroke="#262626" stroke-width="0.8"/>
<text x="394.0" y="273.5" font-family="Liberation Sans, sans-serif" font-size="6.3" text-anchor="end" fill="#1a1a1a">0.7</text>
<line x1="396.3" y1="254.8" x2="398.3" y2="254.8" stroke="#262626" stroke-width="0.8"/>
<line x1="666.7" y1="254.8" x2="664.7" y2="254.8" stroke="#262626" stroke-width="0.8"/>
<text x="394.0" y="258.2" font-family="Liberation Sans, sans-serif" font-size="6.3" text-anchor="end" fill="#1a1a1a">0.8</text>
<line x1="396.3" y1="239.6" x2="398.3" y2="239.6" stroke="#262626" stroke-width="0.8"/>
<line x1="666.7" y1="239.6" x2="664.7" y2="239.6" stroke="#262626" stroke-width="0.8"/>
<text x="394.0" y="243.0" font-family="Liberation Sans, sans-serif" font-size="6.3" text-anchor="end" fill="#1a1a1a">0.9</text>
<line x1="396.3" y1="224.4" x2="398.3" y2="224.4" stroke="#262626" stroke-width="0.8"/>
<line x1="666.7" y1="224.4" x2="664.7" y2="224.4" stroke="#262626" stroke-width="0.8"/>
<text x="394.0" y="227.8" font-family="Liberation Sans, sans-serif" font-size="6.3" text-anchor="end" fill="#1a1a1a">1.0</text>
<text x="473.6" y="216.7" font-family="Liberation Sans, sans-serif" font-size="7.4" font-weight="bold" textLength="115.6" lengthAdjust="spacing" fill="#111">Response of Emeia_sp to bio_12</text>
<text x="522.0" y="403.1" font-family="Liberation Sans, sans-serif" font-size="6.4" textLength="19.2" lengthAdjust="spacing" fill="#1a1a1a">bio_12</text>
<text transform="translate(383.3,316.7) rotate(-90)" font-family="Liberation Sans, sans-serif" font-size="6.2" textLength="39" lengthAdjust="spacing" fill="#1a1a1a">cloglog output</text>
<text x="361" y="235.9" font-family="Liberation Serif, serif" font-size="18" fill="#000">D</text>
<line x1="168.5" y1="433" x2="168.5" y2="682.2" stroke="#cdcdcd" stroke-width="0.8"/>
<line x1="235.8" y1="433" x2="235.8" y2="682.2" stroke="#cdcdcd" stroke-width="0.8"/>
<line x1="256.1" y1="433" x2="256.1" y2="682.2" stroke="#cdcdcd" stroke-width="0.8"/>
<line x1="304.5" y1="433" x2="304.5" y2="682.2" stroke="#cdcdcd" stroke-width="0.8"/>
<line x1="372" y1="433" x2="372" y2="682.2" stroke="#cdcdcd" stroke-width="0.8"/>
<line x1="399.3" y1="433" x2="399.3" y2="682.2" stroke="#cdcdcd" stroke-width="0.8"/>
<line x1="440.5" y1="433" x2="440.5" y2="682.2" stroke="#cdcdcd" stroke-width="0.8"/>
<line x1="535.3" y1="433" x2="535.3" y2="682.2" stroke="#cdcdcd" stroke-width="0.8"/>
<line x1="149.8" y1="657.5" x2="561.4" y2="657.5" stroke="#cdcdcd" stroke-width="0.8"/>
<line x1="149.8" y1="627.0" x2="561.4" y2="627.0" stroke="#cdcdcd" stroke-width="0.8"/>
<line x1="149.8" y1="596.6" x2="561.4" y2="596.6" stroke="#cdcdcd" stroke-width="0.8"/>
<line x1="149.8" y1="566.2" x2="561.4" y2="566.2" stroke="#cdcdcd" stroke-width="0.8"/>
<line x1="149.8" y1="535.7" x2="561.4" y2="535.7" stroke="#cdcdcd" stroke-width="0.8"/>
<line x1="149.8" y1="505.3" x2="561.4" y2="505.3" stroke="#cdcdcd" stroke-width="0.8"/>
<line x1="149.8" y1="474.8" x2="561.4" y2="474.8" stroke="#cdcdcd" stroke-width="0.8"/>
<line x1="149.8" y1="444.4" x2="561.4" y2="444.4" stroke="#cdcdcd" stroke-width="0.8"/>
<rect x="166.1" y="640.8" width="3.4" height="41.4" fill="#0000ff"/>
<rect x="169.5" y="671" width="0.7" height="11.2" fill="#10b8d0" fill-opacity="0.75"/>
<rect x="165.1" y="655.8" width="3.3" height="26.4" fill="#ff0000"/>
<rect x="172.8" y="605" width="3.4" height="77.2" fill="#0000ff"/>
<rect x="176.2" y="621.5" width="0.7" height="60.7" fill="#10b8d0" fill-opacity="0.75"/>
<rect x="171.8" y="613.4" width="3.3" height="68.8" fill="#ff0000"/>
<rect x="233.9" y="605" width="3.4" height="77.2" fill="#0000ff"/>
<rect x="237.3" y="621.5" width="0.7" height="60.7" fill="#10b8d0" fill-opacity="0.75"/>
<rect x="232.9" y="613.4" width="3.3" height="68.8" fill="#ff0000"/>
<rect x="240.9" y="448.8" width="3.4" height="233.4" fill="#0000ff"/>
<rect x="244.3" y="506.9" width="0.7" height="175.3" fill="#10b8d0" fill-opacity="0.75"/>
<rect x="239.9" y="477.7" width="3.3" height="204.5" fill="#ff0000"/>
<rect x="247.9" y="496.1" width="3.4" height="186.1" fill="#0000ff"/>
<rect x="251.3" y="539.8" width="0.7" height="142.4" fill="#10b8d0" fill-opacity="0.75"/>
<rect x="246.9" y="518" width="3.3" height="164.2" fill="#ff0000"/>
<rect x="253.9" y="543.8" width="3.4" height="138.4" fill="#0000ff"/>
<rect x="257.3" y="588.6" width="0.7" height="93.6" fill="#10b8d0" fill-opacity="0.75"/>
<rect x="252.9" y="565.8" width="3.3" height="116.4" fill="#ff0000"/>
<rect x="302.4" y="605" width="3.4" height="77.2" fill="#0000ff"/>
<rect x="305.8" y="621.5" width="0.7" height="60.7" fill="#10b8d0" fill-opacity="0.75"/>
<rect x="301.4" y="613.4" width="3.3" height="68.8" fill="#ff0000"/>
<rect x="309.3" y="605" width="3.4" height="77.2" fill="#0000ff"/>
<rect x="312.7" y="621.5" width="0.7" height="60.7" fill="#10b8d0" fill-opacity="0.75"/>
<rect x="308.3" y="613.4" width="3.3" height="68.8" fill="#ff0000"/>
<rect x="315.7" y="605" width="3.4" height="77.2" fill="#0000ff"/>
<rect x="319.1" y="621.5" width="0.7" height="60.7" fill="#10b8d0" fill-opacity="0.75"/>
<rect x="314.7" y="613.4" width="3.3" height="68.8" fill="#ff0000"/>
<rect x="370.0" y="444.3" width="3.4" height="237.9" fill="#0000ff"/>
<rect x="373.4" y="444.3" width="0.7" height="237.9" fill="#10b8d0" fill-opacity="0.75"/>
<rect x="369.0" y="444.3" width="3.3" height="237.9" fill="#ff0000"/>
<rect x="377.0" y="605" width="3.4" height="77.2" fill="#0000ff"/>
<rect x="380.4" y="621.5" width="0.7" height="60.7" fill="#10b8d0" fill-opacity="0.75"/>
<rect x="376.0" y="613.4" width="3.3" height="68.8" fill="#ff0000"/>
<rect x="384.0" y="605" width="3.4" height="77.2" fill="#0000ff"/>
<rect x="387.4" y="621.5" width="0.7" height="60.7" fill="#10b8d0" fill-opacity="0.75"/>
<rect x="383.0" y="613.4" width="3.3" height="68.8" fill="#ff0000"/>
<rect x="397.1" y="605" width="3.4" height="77.2" fill="#0000ff"/>
<rect x="400.5" y="621.5" width="0.7" height="60.7" fill="#10b8d0" fill-opacity="0.75"/>
<rect x="396.1" y="613.4" width="3.3" height="68.8" fill="#ff0000"/>
<rect x="404.0" y="444.3" width="3.4" height="237.9" fill="#0000ff"/>
<rect x="407.4" y="506.5" width="0.7" height="175.7" fill="#10b8d0" fill-opacity="0.75"/>
<rect x="403.0" y="460" width="3.3" height="222.2" fill="#ff0000"/>
<rect x="438.1" y="605" width="3.4" height="77.2" fill="#0000ff"/>
<rect x="441.5" y="622.5" width="0.7" height="59.7" fill="#10b8d0" fill-opacity="0.75"/>
<rect x="437.1" y="613.6" width="3.3" height="68.6" fill="#ff0000"/>
<rect x="445.2" y="602.1" width="3.4" height="80.1" fill="#0000ff"/>
<rect x="448.6" y="619.1" width="0.7" height="63.1" fill="#10b8d0" fill-opacity="0.75"/>
<rect x="444.2" y="610.4" width="3.3" height="71.8" fill="#ff0000"/>
<rect x="452.1" y="466.9" width="3.4" height="215.3" fill="#0000ff"/>
<rect x="455.5" y="535.4" width="0.7" height="146.8" fill="#10b8d0" fill-opacity="0.75"/>
<rect x="451.1" y="501.1" width="3.3" height="181.1" fill="#ff0000"/>
<rect x="534.1" y="605" width="3.4" height="77.2" fill="#0000ff"/>
<rect x="537.5" y="621.5" width="0.7" height="60.7" fill="#10b8d0" fill-opacity="0.75"/>
<rect x="533.1" y="613.4" width="3.3" height="68.8" fill="#ff0000"/>
<rect x="540.0" y="605" width="3.4" height="77.2" fill="#0000ff"/>
<rect x="543.4" y="621.5" width="0.7" height="60.7" fill="#10b8d0" fill-opacity="0.75"/>
<rect x="539.0" y="613.4" width="3.3" height="68.8" fill="#ff0000"/>
<rect x="149.8" y="433" width="411.6" height="249.2" fill="none" stroke="#262626" stroke-width="1.2"/>
<line x1="168.5" y1="433" x2="168.5" y2="436.5" stroke="#262626" stroke-width="0.8"/>
<line x1="235.8" y1="433" x2="235.8" y2="436.5" stroke="#262626" stroke-width="0.8"/>
<line x1="256.1" y1="433" x2="256.1" y2="436.5" stroke="#262626" stroke-width="0.8"/>
<line x1="304.5" y1="433" x2="304.5" y2="436.5" stroke="#262626" stroke-width="0.8"/>
<line x1="372" y1="433" x2="372" y2="436.5" stroke="#262626" stroke-width="0.8"/>
<line x1="399.3" y1="433" x2="399.3" y2="436.5" stroke="#262626" stroke-width="0.8"/>
<line x1="440.5" y1="433" x2="440.5" y2="436.5" stroke="#262626" stroke-width="0.8"/>
<line x1="535.3" y1="433" x2="535.3" y2="436.5" stroke="#262626" stroke-width="0.8"/>
<line x1="149.8" y1="657.5" x2="153.3" y2="657.5" stroke="#262626" stroke-width="0.8"/>
<line x1="561.4" y1="657.5" x2="557.9" y2="657.5" stroke="#262626" stroke-width="0.8"/>
<text x="145.9" y="662.8" font-family="Liberation Sans, sans-serif" font-size="9.5" text-anchor="end" fill="#1a1a1a">0.3</text>
<line x1="149.8" y1="627.0" x2="153.3" y2="627.0" stroke="#262626" stroke-width="0.8"/>
<line x1="561.4" y1="627.0" x2="557.9" y2="627.0" stroke="#262626" stroke-width="0.8"/>
<text x="145.9" y="632.3" font-family="Liberation Sans, sans-serif" font-size="9.5" text-anchor="end" fill="#1a1a1a">0.4</text>
<line x1="149.8" y1="596.6" x2="153.3" y2="596.6" stroke="#262626" stroke-width="0.8"/>
<line x1="561.4" y1="596.6" x2="557.9" y2="596.6" stroke="#262626" stroke-width="0.8"/>
<text x="145.9" y="601.9" font-family="Liberation Sans, sans-serif" font-size="9.5" text-anchor="end" fill="#1a1a1a">0.5</text>
<line x1="149.8" y1="566.2" x2="153.3" y2="566.2" stroke="#262626" stroke-width="0.8"/>
<line x1="561.4" y1="566.2" x2="557.9" y2="566.2" stroke="#262626" stroke-width="0.8"/>
<text x="145.9" y="571.5" font-family="Liberation Sans, sans-serif" font-size="9.5" text-anchor="end" fill="#1a1a1a">0.6</text>
<line x1="149.8" y1="535.7" x2="153.3" y2="535.7" stroke="#262626" stroke-width="0.8"/>
<line x1="561.4" y1="535.7" x2="557.9" y2="535.7" stroke="#262626" stroke-width="0.8"/>
<text x="145.9" y="541.0" font-family="Liberation Sans, sans-serif" font-size="9.5" text-anchor="end" fill="#1a1a1a">0.7</text>
<line x1="149.8" y1="505.3" x2="153.3" y2="505.3" stroke="#262626" stroke-width="0.8"/>
<line x1="561.4" y1="505.3" x2="557.9" y2="505.3" stroke="#262626" stroke-width="0.8"/>
<text x="145.9" y="510.6" font-family="Liberation Sans, sans-serif" font-size="9.5" text-anchor="end" fill="#1a1a1a">0.8</text>
<line x1="149.8" y1="474.8" x2="153.3" y2="474.8" stroke="#262626" stroke-width="0.8"/>
<line x1="561.4" y1="474.8" x2="557.9" y2="474.8" stroke="#262626" stroke-width="0.8"/>
<text x="145.9" y="480.1" font-family="Liberation Sans, sans-serif" font-size="9.5" text-anchor="end" fill="#1a1a1a">0.9</text>
<line x1="149.8" y1="444.4" x2="153.3" y2="444.4" stroke="#262626" stroke-width="0.8"/>
<line x1="561.4" y1="444.4" x2="557.9" y2="444.4" stroke="#262626" stroke-width="0.8"/>
<text x="145.9" y="449.7" font-family="Liberation Sans, sans-serif" font-size="9.5" text-anchor="end" fill="#1a1a1a">1.0</text>
<text x="272.8" y="429.3" font-family="Liberation Sans, sans-serif" font-size="11.35" font-weight="bold" textLength="163.9" lengthAdjust="spacing" fill="#111">Response of Emeia_sp to lucc</text>
<text x="112.4" y="454.8" font-family="Liberation Serif, serif" font-size="18.5" fill="#000">E</text>
<text transform="translate(164.8,683.6) rotate(90)" font-family="Liberation Serif, serif" font-size="5.9" font-weight="bold" fill="#000" stroke="#000" stroke-width="0.18">Water Field</text>
<text transform="translate(171.5,683.6) rotate(90)" font-family="Liberation Serif, serif" font-size="5.9" font-weight="bold" fill="#000" stroke="#000" stroke-width="0.18">Dryland</text>
<text transform="translate(232.6,683.6) rotate(90)" font-family="Liberation Serif, serif" font-size="5.9" font-weight="bold" fill="#000" stroke="#000" stroke-width="0.18">With forest land</text>
<text transform="translate(239.6,683.6) rotate(90)" font-family="Liberation Serif, serif" font-size="5.9" font-weight="bold" fill="#000" stroke="#000" stroke-width="0.18">Shrubland</text>
<text transform="translate(246.6,683.6) rotate(90)" font-family="Liberation Serif, serif" font-size="5.9" font-weight="bold" fill="#000" stroke="#000" stroke-width="0.18">Open woodland</text>
<text transform="translate(252.6,683.6) rotate(90)" font-family="Liberation Serif, serif" font-size="5.9" font-weight="bold" fill="#000" stroke="#000" stroke-width="0.18">Other forest land</text>
<text transform="translate(301.1,683.6) rotate(90)" font-family="Liberation Serif, serif" font-size="5.9" font-weight="bold" fill="#000" stroke="#000" stroke-width="0.18">High-coverage grass</text>
<text transform="translate(308.0,683.6) rotate(90)" font-family="Liberation Serif, serif" font-size="5.9" font-weight="bold" fill="#000" stroke="#000" stroke-width="0.18">Medium-coverage grass</text>
<text transform="translate(314.4,683.6) rotate(90)" font-family="Liberation Serif, serif" font-size="5.9" font-weight="bold" fill="#000" stroke="#000" stroke-width="0.18">Low-coverage grass</text>
<text transform="translate(368.7,683.6) rotate(90)" font-family="Liberation Serif, serif" font-size="5.9" font-weight="bold" fill="#000" stroke="#000" stroke-width="0.18">rivers and canals</text>
<text transform="translate(375.7,683.6) rotate(90)" font-family="Liberation Serif, serif" font-size="5.9" font-weight="bold" fill="#000" stroke="#000" stroke-width="0.18">Lakes</text>
<text transform="translate(382.7,683.6) rotate(90)" font-family="Liberation Serif, serif" font-size="5.9" font-weight="bold" fill="#000" stroke="#000" stroke-width="0.18">Reservoir ponds</text>
<text transform="translate(395.8,683.6) rotate(90)" font-family="Liberation Serif, serif" font-size="5.9" font-weight="bold" fill="#000" stroke="#000" stroke-width="0.18">Mudflats</text>
<text transform="translate(402.7,683.6) rotate(90)" font-family="Liberation Serif, serif" font-size="5.9" font-weight="bold" fill="#000" stroke="#000" stroke-width="0.18">Beachland</text>
<text transform="translate(436.8,683.6) rotate(90)" font-family="Liberation Serif, serif" font-size="5.9" font-weight="bold" fill="#000" stroke="#000" stroke-width="0.18">Urban land</text>
<text transform="translate(443.9,683.6) rotate(90)" font-family="Liberation Serif, serif" font-size="5.9" font-weight="bold" fill="#000" stroke="#000" stroke-width="0.18">Rural settlements</text>
<text transform="translate(450.8,683.6) rotate(90)" font-family="Liberation Serif, serif" font-size="5.9" font-weight="bold" fill="#000" stroke="#000" stroke-width="0.18">Other construction land</text>
<text transform="translate(532.8,683.6) rotate(90)" font-family="Liberation Serif, serif" font-size="5.9" font-weight="bold" fill="#000" stroke="#000" stroke-width="0.18">Bare land</text>
<text transform="translate(538.7,683.6) rotate(90)" font-family="Liberation Serif, serif" font-size="5.9" font-weight="bold" fill="#000" stroke="#000" stroke-width="0.18">Bare rock texture</text>
</svg>
</body></html>
